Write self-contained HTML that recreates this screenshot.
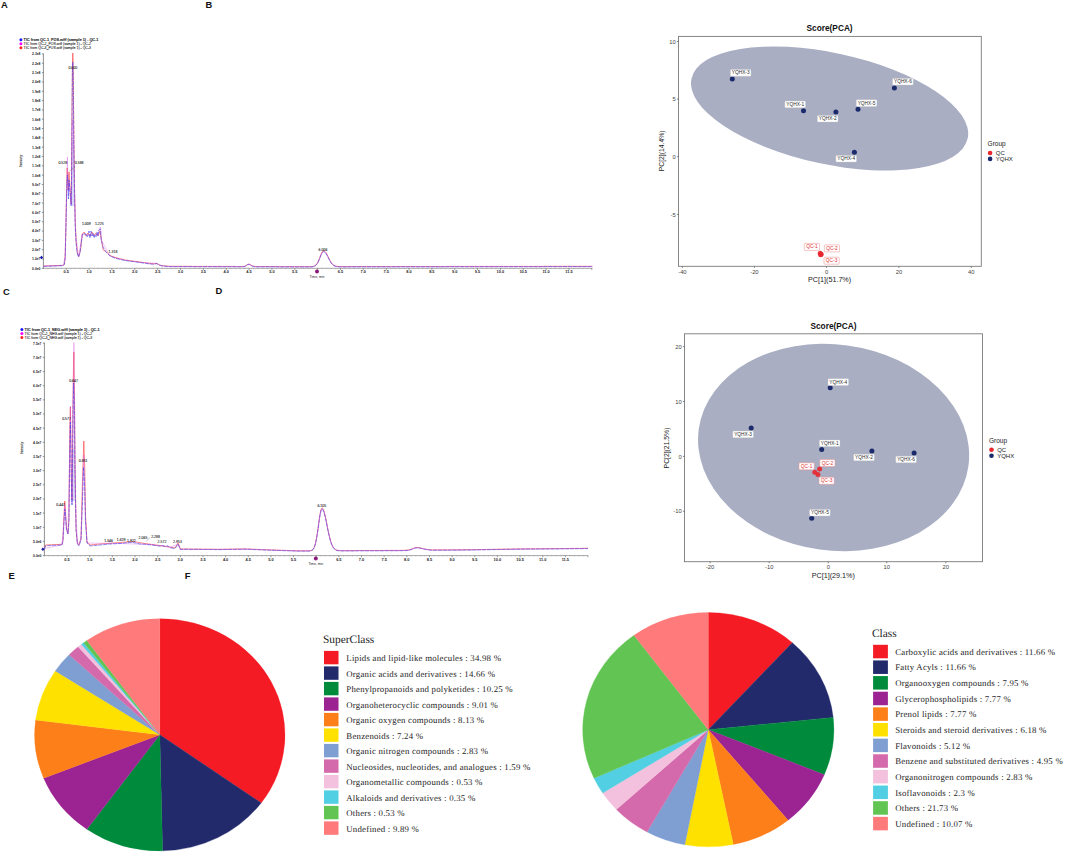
<!DOCTYPE html>
<html><head><meta charset="utf-8"><title>Figure</title>
<style>
html,body{margin:0;padding:0;background:#fff;}
body{width:1065px;height:856px;overflow:hidden;font-family:"Liberation Sans", sans-serif;}
svg{position:absolute;left:0;top:0;display:block;}
</style></head><body>
<svg width="1065" height="856" viewBox="0 0 1065 856">
<rect width="1065" height="856" fill="#fff"/>
<text x="0.9" y="8.0" font-family='"Liberation Sans", sans-serif' font-weight="bold" font-size="9.4" fill="#111">A</text>
<text x="205.6" y="8.1" font-family='"Liberation Sans", sans-serif' font-weight="bold" font-size="9.4" fill="#111">B</text>
<text x="3.0" y="294.5" font-family='"Liberation Sans", sans-serif' font-weight="bold" font-size="9.4" fill="#111">C</text>
<text x="215.6" y="294.4" font-family='"Liberation Sans", sans-serif' font-weight="bold" font-size="9.4" fill="#111">D</text>
<text x="8.6" y="578.9" font-family='"Liberation Sans", sans-serif' font-weight="bold" font-size="9.4" fill="#111">E</text>
<text x="184.8" y="578.9" font-family='"Liberation Sans", sans-serif' font-weight="bold" font-size="9.4" fill="#111">F</text>
<polygon points="71.5,206 71.9,140 73.8,140 74.6,206" fill="#cfd0f3" fill-opacity="0.8"/>
<line x1="43.4" y1="53.4" x2="43.4" y2="268.6" stroke="#6a6a6a" stroke-width="0.75"/>
<line x1="43.4" y1="268.3" x2="592.4" y2="268.3" stroke="#8a8a8a" stroke-width="0.75"/>
<line x1="41.8" y1="268.30" x2="43.4" y2="268.30" stroke="#555" stroke-width="0.6"/>
<text x="40.5" y="269.75" text-anchor="end" font-family='"Liberation Sans", sans-serif' font-size="4.0" font-weight="bold" textLength="8.4" lengthAdjust="spacingAndGlyphs" fill="#222">0.0e0</text>
<line x1="41.8" y1="258.98" x2="43.4" y2="258.98" stroke="#555" stroke-width="0.6"/>
<text x="40.5" y="260.43" text-anchor="end" font-family='"Liberation Sans", sans-serif' font-size="4.0" font-weight="bold" textLength="8.4" lengthAdjust="spacingAndGlyphs" fill="#222">1.0e7</text>
<line x1="41.8" y1="249.67" x2="43.4" y2="249.67" stroke="#555" stroke-width="0.6"/>
<text x="40.5" y="251.12" text-anchor="end" font-family='"Liberation Sans", sans-serif' font-size="4.0" font-weight="bold" textLength="8.4" lengthAdjust="spacingAndGlyphs" fill="#222">2.0e7</text>
<line x1="41.8" y1="240.35" x2="43.4" y2="240.35" stroke="#555" stroke-width="0.6"/>
<text x="40.5" y="241.80" text-anchor="end" font-family='"Liberation Sans", sans-serif' font-size="4.0" font-weight="bold" textLength="8.4" lengthAdjust="spacingAndGlyphs" fill="#222">3.0e7</text>
<line x1="41.8" y1="231.03" x2="43.4" y2="231.03" stroke="#555" stroke-width="0.6"/>
<text x="40.5" y="232.48" text-anchor="end" font-family='"Liberation Sans", sans-serif' font-size="4.0" font-weight="bold" textLength="8.4" lengthAdjust="spacingAndGlyphs" fill="#222">4.0e7</text>
<line x1="41.8" y1="221.71" x2="43.4" y2="221.71" stroke="#555" stroke-width="0.6"/>
<text x="40.5" y="223.16" text-anchor="end" font-family='"Liberation Sans", sans-serif' font-size="4.0" font-weight="bold" textLength="8.4" lengthAdjust="spacingAndGlyphs" fill="#222">5.0e7</text>
<line x1="41.8" y1="212.40" x2="43.4" y2="212.40" stroke="#555" stroke-width="0.6"/>
<text x="40.5" y="213.85" text-anchor="end" font-family='"Liberation Sans", sans-serif' font-size="4.0" font-weight="bold" textLength="8.4" lengthAdjust="spacingAndGlyphs" fill="#222">6.0e7</text>
<line x1="41.8" y1="203.08" x2="43.4" y2="203.08" stroke="#555" stroke-width="0.6"/>
<text x="40.5" y="204.53" text-anchor="end" font-family='"Liberation Sans", sans-serif' font-size="4.0" font-weight="bold" textLength="8.4" lengthAdjust="spacingAndGlyphs" fill="#222">7.0e7</text>
<line x1="41.8" y1="193.76" x2="43.4" y2="193.76" stroke="#555" stroke-width="0.6"/>
<text x="40.5" y="195.21" text-anchor="end" font-family='"Liberation Sans", sans-serif' font-size="4.0" font-weight="bold" textLength="8.4" lengthAdjust="spacingAndGlyphs" fill="#222">8.0e7</text>
<line x1="41.8" y1="184.44" x2="43.4" y2="184.44" stroke="#555" stroke-width="0.6"/>
<text x="40.5" y="185.89" text-anchor="end" font-family='"Liberation Sans", sans-serif' font-size="4.0" font-weight="bold" textLength="8.4" lengthAdjust="spacingAndGlyphs" fill="#222">9.0e7</text>
<line x1="41.8" y1="175.13" x2="43.4" y2="175.13" stroke="#555" stroke-width="0.6"/>
<text x="40.5" y="176.58" text-anchor="end" font-family='"Liberation Sans", sans-serif' font-size="4.0" font-weight="bold" textLength="8.4" lengthAdjust="spacingAndGlyphs" fill="#222">1.0e8</text>
<line x1="41.8" y1="165.81" x2="43.4" y2="165.81" stroke="#555" stroke-width="0.6"/>
<text x="40.5" y="167.26" text-anchor="end" font-family='"Liberation Sans", sans-serif' font-size="4.0" font-weight="bold" textLength="8.4" lengthAdjust="spacingAndGlyphs" fill="#222">1.1e8</text>
<line x1="41.8" y1="156.49" x2="43.4" y2="156.49" stroke="#555" stroke-width="0.6"/>
<text x="40.5" y="157.94" text-anchor="end" font-family='"Liberation Sans", sans-serif' font-size="4.0" font-weight="bold" textLength="8.4" lengthAdjust="spacingAndGlyphs" fill="#222">1.2e8</text>
<line x1="41.8" y1="147.17" x2="43.4" y2="147.17" stroke="#555" stroke-width="0.6"/>
<text x="40.5" y="148.62" text-anchor="end" font-family='"Liberation Sans", sans-serif' font-size="4.0" font-weight="bold" textLength="8.4" lengthAdjust="spacingAndGlyphs" fill="#222">1.3e8</text>
<line x1="41.8" y1="137.86" x2="43.4" y2="137.86" stroke="#555" stroke-width="0.6"/>
<text x="40.5" y="139.31" text-anchor="end" font-family='"Liberation Sans", sans-serif' font-size="4.0" font-weight="bold" textLength="8.4" lengthAdjust="spacingAndGlyphs" fill="#222">1.4e8</text>
<line x1="41.8" y1="128.54" x2="43.4" y2="128.54" stroke="#555" stroke-width="0.6"/>
<text x="40.5" y="129.99" text-anchor="end" font-family='"Liberation Sans", sans-serif' font-size="4.0" font-weight="bold" textLength="8.4" lengthAdjust="spacingAndGlyphs" fill="#222">1.5e8</text>
<line x1="41.8" y1="119.22" x2="43.4" y2="119.22" stroke="#555" stroke-width="0.6"/>
<text x="40.5" y="120.67" text-anchor="end" font-family='"Liberation Sans", sans-serif' font-size="4.0" font-weight="bold" textLength="8.4" lengthAdjust="spacingAndGlyphs" fill="#222">1.6e8</text>
<line x1="41.8" y1="109.90" x2="43.4" y2="109.90" stroke="#555" stroke-width="0.6"/>
<text x="40.5" y="111.35" text-anchor="end" font-family='"Liberation Sans", sans-serif' font-size="4.0" font-weight="bold" textLength="8.4" lengthAdjust="spacingAndGlyphs" fill="#222">1.7e8</text>
<line x1="41.8" y1="100.59" x2="43.4" y2="100.59" stroke="#555" stroke-width="0.6"/>
<text x="40.5" y="102.04" text-anchor="end" font-family='"Liberation Sans", sans-serif' font-size="4.0" font-weight="bold" textLength="8.4" lengthAdjust="spacingAndGlyphs" fill="#222">1.8e8</text>
<line x1="41.8" y1="91.27" x2="43.4" y2="91.27" stroke="#555" stroke-width="0.6"/>
<text x="40.5" y="92.72" text-anchor="end" font-family='"Liberation Sans", sans-serif' font-size="4.0" font-weight="bold" textLength="8.4" lengthAdjust="spacingAndGlyphs" fill="#222">1.9e8</text>
<line x1="41.8" y1="81.95" x2="43.4" y2="81.95" stroke="#555" stroke-width="0.6"/>
<text x="40.5" y="83.40" text-anchor="end" font-family='"Liberation Sans", sans-serif' font-size="4.0" font-weight="bold" textLength="8.4" lengthAdjust="spacingAndGlyphs" fill="#222">2.0e8</text>
<line x1="41.8" y1="72.63" x2="43.4" y2="72.63" stroke="#555" stroke-width="0.6"/>
<text x="40.5" y="74.08" text-anchor="end" font-family='"Liberation Sans", sans-serif' font-size="4.0" font-weight="bold" textLength="8.4" lengthAdjust="spacingAndGlyphs" fill="#222">2.1e8</text>
<line x1="41.8" y1="63.32" x2="43.4" y2="63.32" stroke="#555" stroke-width="0.6"/>
<text x="40.5" y="64.77" text-anchor="end" font-family='"Liberation Sans", sans-serif' font-size="4.0" font-weight="bold" textLength="8.4" lengthAdjust="spacingAndGlyphs" fill="#222">2.2e8</text>
<line x1="41.8" y1="54.00" x2="43.4" y2="54.00" stroke="#555" stroke-width="0.6"/>
<text x="40.5" y="55.45" text-anchor="end" font-family='"Liberation Sans", sans-serif' font-size="4.0" font-weight="bold" textLength="8.4" lengthAdjust="spacingAndGlyphs" fill="#222">2.3e8</text>
<line x1="43.40" y1="268.3" x2="43.40" y2="269.2" stroke="#888" stroke-width="0.4"/>
<line x1="47.97" y1="268.3" x2="47.97" y2="269.2" stroke="#888" stroke-width="0.4"/>
<line x1="52.54" y1="268.3" x2="52.54" y2="269.2" stroke="#888" stroke-width="0.4"/>
<line x1="57.11" y1="268.3" x2="57.11" y2="269.2" stroke="#888" stroke-width="0.4"/>
<line x1="61.68" y1="268.3" x2="61.68" y2="269.2" stroke="#888" stroke-width="0.4"/>
<line x1="66.25" y1="268.3" x2="66.25" y2="269.90000000000003" stroke="#555" stroke-width="0.6"/>
<text x="66.25" y="273.40" text-anchor="middle" font-family='"Liberation Sans", sans-serif' font-size="3.9" font-weight="bold" fill="#222">0.5</text>
<line x1="70.82" y1="268.3" x2="70.82" y2="269.2" stroke="#888" stroke-width="0.4"/>
<line x1="75.39" y1="268.3" x2="75.39" y2="269.2" stroke="#888" stroke-width="0.4"/>
<line x1="79.96" y1="268.3" x2="79.96" y2="269.2" stroke="#888" stroke-width="0.4"/>
<line x1="84.53" y1="268.3" x2="84.53" y2="269.2" stroke="#888" stroke-width="0.4"/>
<line x1="89.10" y1="268.3" x2="89.10" y2="269.90000000000003" stroke="#555" stroke-width="0.6"/>
<text x="89.10" y="273.40" text-anchor="middle" font-family='"Liberation Sans", sans-serif' font-size="3.9" font-weight="bold" fill="#222">1.0</text>
<line x1="93.67" y1="268.3" x2="93.67" y2="269.2" stroke="#888" stroke-width="0.4"/>
<line x1="98.24" y1="268.3" x2="98.24" y2="269.2" stroke="#888" stroke-width="0.4"/>
<line x1="102.81" y1="268.3" x2="102.81" y2="269.2" stroke="#888" stroke-width="0.4"/>
<line x1="107.38" y1="268.3" x2="107.38" y2="269.2" stroke="#888" stroke-width="0.4"/>
<line x1="111.95" y1="268.3" x2="111.95" y2="269.90000000000003" stroke="#555" stroke-width="0.6"/>
<text x="111.95" y="273.40" text-anchor="middle" font-family='"Liberation Sans", sans-serif' font-size="3.9" font-weight="bold" fill="#222">1.5</text>
<line x1="116.52" y1="268.3" x2="116.52" y2="269.2" stroke="#888" stroke-width="0.4"/>
<line x1="121.09" y1="268.3" x2="121.09" y2="269.2" stroke="#888" stroke-width="0.4"/>
<line x1="125.66" y1="268.3" x2="125.66" y2="269.2" stroke="#888" stroke-width="0.4"/>
<line x1="130.23" y1="268.3" x2="130.23" y2="269.2" stroke="#888" stroke-width="0.4"/>
<line x1="134.80" y1="268.3" x2="134.80" y2="269.90000000000003" stroke="#555" stroke-width="0.6"/>
<text x="134.80" y="273.40" text-anchor="middle" font-family='"Liberation Sans", sans-serif' font-size="3.9" font-weight="bold" fill="#222">2.0</text>
<line x1="139.37" y1="268.3" x2="139.37" y2="269.2" stroke="#888" stroke-width="0.4"/>
<line x1="143.94" y1="268.3" x2="143.94" y2="269.2" stroke="#888" stroke-width="0.4"/>
<line x1="148.51" y1="268.3" x2="148.51" y2="269.2" stroke="#888" stroke-width="0.4"/>
<line x1="153.08" y1="268.3" x2="153.08" y2="269.2" stroke="#888" stroke-width="0.4"/>
<line x1="157.65" y1="268.3" x2="157.65" y2="269.90000000000003" stroke="#555" stroke-width="0.6"/>
<text x="157.65" y="273.40" text-anchor="middle" font-family='"Liberation Sans", sans-serif' font-size="3.9" font-weight="bold" fill="#222">2.5</text>
<line x1="162.22" y1="268.3" x2="162.22" y2="269.2" stroke="#888" stroke-width="0.4"/>
<line x1="166.79" y1="268.3" x2="166.79" y2="269.2" stroke="#888" stroke-width="0.4"/>
<line x1="171.36" y1="268.3" x2="171.36" y2="269.2" stroke="#888" stroke-width="0.4"/>
<line x1="175.93" y1="268.3" x2="175.93" y2="269.2" stroke="#888" stroke-width="0.4"/>
<line x1="180.50" y1="268.3" x2="180.50" y2="269.90000000000003" stroke="#555" stroke-width="0.6"/>
<text x="180.50" y="273.40" text-anchor="middle" font-family='"Liberation Sans", sans-serif' font-size="3.9" font-weight="bold" fill="#222">3.0</text>
<line x1="185.07" y1="268.3" x2="185.07" y2="269.2" stroke="#888" stroke-width="0.4"/>
<line x1="189.64" y1="268.3" x2="189.64" y2="269.2" stroke="#888" stroke-width="0.4"/>
<line x1="194.21" y1="268.3" x2="194.21" y2="269.2" stroke="#888" stroke-width="0.4"/>
<line x1="198.78" y1="268.3" x2="198.78" y2="269.2" stroke="#888" stroke-width="0.4"/>
<line x1="203.35" y1="268.3" x2="203.35" y2="269.90000000000003" stroke="#555" stroke-width="0.6"/>
<text x="203.35" y="273.40" text-anchor="middle" font-family='"Liberation Sans", sans-serif' font-size="3.9" font-weight="bold" fill="#222">3.5</text>
<line x1="207.92" y1="268.3" x2="207.92" y2="269.2" stroke="#888" stroke-width="0.4"/>
<line x1="212.49" y1="268.3" x2="212.49" y2="269.2" stroke="#888" stroke-width="0.4"/>
<line x1="217.06" y1="268.3" x2="217.06" y2="269.2" stroke="#888" stroke-width="0.4"/>
<line x1="221.63" y1="268.3" x2="221.63" y2="269.2" stroke="#888" stroke-width="0.4"/>
<line x1="226.20" y1="268.3" x2="226.20" y2="269.90000000000003" stroke="#555" stroke-width="0.6"/>
<text x="226.20" y="273.40" text-anchor="middle" font-family='"Liberation Sans", sans-serif' font-size="3.9" font-weight="bold" fill="#222">4.0</text>
<line x1="230.77" y1="268.3" x2="230.77" y2="269.2" stroke="#888" stroke-width="0.4"/>
<line x1="235.34" y1="268.3" x2="235.34" y2="269.2" stroke="#888" stroke-width="0.4"/>
<line x1="239.91" y1="268.3" x2="239.91" y2="269.2" stroke="#888" stroke-width="0.4"/>
<line x1="244.48" y1="268.3" x2="244.48" y2="269.2" stroke="#888" stroke-width="0.4"/>
<line x1="249.05" y1="268.3" x2="249.05" y2="269.90000000000003" stroke="#555" stroke-width="0.6"/>
<text x="249.05" y="273.40" text-anchor="middle" font-family='"Liberation Sans", sans-serif' font-size="3.9" font-weight="bold" fill="#222">4.5</text>
<line x1="253.62" y1="268.3" x2="253.62" y2="269.2" stroke="#888" stroke-width="0.4"/>
<line x1="258.19" y1="268.3" x2="258.19" y2="269.2" stroke="#888" stroke-width="0.4"/>
<line x1="262.76" y1="268.3" x2="262.76" y2="269.2" stroke="#888" stroke-width="0.4"/>
<line x1="267.33" y1="268.3" x2="267.33" y2="269.2" stroke="#888" stroke-width="0.4"/>
<line x1="271.90" y1="268.3" x2="271.90" y2="269.90000000000003" stroke="#555" stroke-width="0.6"/>
<text x="271.90" y="273.40" text-anchor="middle" font-family='"Liberation Sans", sans-serif' font-size="3.9" font-weight="bold" fill="#222">5.0</text>
<line x1="276.47" y1="268.3" x2="276.47" y2="269.2" stroke="#888" stroke-width="0.4"/>
<line x1="281.04" y1="268.3" x2="281.04" y2="269.2" stroke="#888" stroke-width="0.4"/>
<line x1="285.61" y1="268.3" x2="285.61" y2="269.2" stroke="#888" stroke-width="0.4"/>
<line x1="290.18" y1="268.3" x2="290.18" y2="269.2" stroke="#888" stroke-width="0.4"/>
<line x1="294.75" y1="268.3" x2="294.75" y2="269.90000000000003" stroke="#555" stroke-width="0.6"/>
<text x="294.75" y="273.40" text-anchor="middle" font-family='"Liberation Sans", sans-serif' font-size="3.9" font-weight="bold" fill="#222">5.5</text>
<line x1="299.32" y1="268.3" x2="299.32" y2="269.2" stroke="#888" stroke-width="0.4"/>
<line x1="303.89" y1="268.3" x2="303.89" y2="269.2" stroke="#888" stroke-width="0.4"/>
<line x1="308.46" y1="268.3" x2="308.46" y2="269.2" stroke="#888" stroke-width="0.4"/>
<line x1="313.03" y1="268.3" x2="313.03" y2="269.2" stroke="#888" stroke-width="0.4"/>
<line x1="317.60" y1="268.3" x2="317.60" y2="269.90000000000003" stroke="#555" stroke-width="0.6"/>
<text x="317.60" y="273.40" text-anchor="middle" font-family='"Liberation Sans", sans-serif' font-size="3.9" font-weight="bold" fill="#222"></text>
<line x1="322.17" y1="268.3" x2="322.17" y2="269.2" stroke="#888" stroke-width="0.4"/>
<line x1="326.74" y1="268.3" x2="326.74" y2="269.2" stroke="#888" stroke-width="0.4"/>
<line x1="331.31" y1="268.3" x2="331.31" y2="269.2" stroke="#888" stroke-width="0.4"/>
<line x1="335.88" y1="268.3" x2="335.88" y2="269.2" stroke="#888" stroke-width="0.4"/>
<line x1="340.45" y1="268.3" x2="340.45" y2="269.90000000000003" stroke="#555" stroke-width="0.6"/>
<text x="340.45" y="273.40" text-anchor="middle" font-family='"Liberation Sans", sans-serif' font-size="3.9" font-weight="bold" fill="#222">6.5</text>
<line x1="345.02" y1="268.3" x2="345.02" y2="269.2" stroke="#888" stroke-width="0.4"/>
<line x1="349.59" y1="268.3" x2="349.59" y2="269.2" stroke="#888" stroke-width="0.4"/>
<line x1="354.16" y1="268.3" x2="354.16" y2="269.2" stroke="#888" stroke-width="0.4"/>
<line x1="358.73" y1="268.3" x2="358.73" y2="269.2" stroke="#888" stroke-width="0.4"/>
<line x1="363.30" y1="268.3" x2="363.30" y2="269.90000000000003" stroke="#555" stroke-width="0.6"/>
<text x="363.30" y="273.40" text-anchor="middle" font-family='"Liberation Sans", sans-serif' font-size="3.9" font-weight="bold" fill="#222">7.0</text>
<line x1="367.87" y1="268.3" x2="367.87" y2="269.2" stroke="#888" stroke-width="0.4"/>
<line x1="372.44" y1="268.3" x2="372.44" y2="269.2" stroke="#888" stroke-width="0.4"/>
<line x1="377.01" y1="268.3" x2="377.01" y2="269.2" stroke="#888" stroke-width="0.4"/>
<line x1="381.58" y1="268.3" x2="381.58" y2="269.2" stroke="#888" stroke-width="0.4"/>
<line x1="386.15" y1="268.3" x2="386.15" y2="269.90000000000003" stroke="#555" stroke-width="0.6"/>
<text x="386.15" y="273.40" text-anchor="middle" font-family='"Liberation Sans", sans-serif' font-size="3.9" font-weight="bold" fill="#222">7.5</text>
<line x1="390.72" y1="268.3" x2="390.72" y2="269.2" stroke="#888" stroke-width="0.4"/>
<line x1="395.29" y1="268.3" x2="395.29" y2="269.2" stroke="#888" stroke-width="0.4"/>
<line x1="399.86" y1="268.3" x2="399.86" y2="269.2" stroke="#888" stroke-width="0.4"/>
<line x1="404.43" y1="268.3" x2="404.43" y2="269.2" stroke="#888" stroke-width="0.4"/>
<line x1="409.00" y1="268.3" x2="409.00" y2="269.90000000000003" stroke="#555" stroke-width="0.6"/>
<text x="409.00" y="273.40" text-anchor="middle" font-family='"Liberation Sans", sans-serif' font-size="3.9" font-weight="bold" fill="#222">8.0</text>
<line x1="413.57" y1="268.3" x2="413.57" y2="269.2" stroke="#888" stroke-width="0.4"/>
<line x1="418.14" y1="268.3" x2="418.14" y2="269.2" stroke="#888" stroke-width="0.4"/>
<line x1="422.71" y1="268.3" x2="422.71" y2="269.2" stroke="#888" stroke-width="0.4"/>
<line x1="427.28" y1="268.3" x2="427.28" y2="269.2" stroke="#888" stroke-width="0.4"/>
<line x1="431.85" y1="268.3" x2="431.85" y2="269.90000000000003" stroke="#555" stroke-width="0.6"/>
<text x="431.85" y="273.40" text-anchor="middle" font-family='"Liberation Sans", sans-serif' font-size="3.9" font-weight="bold" fill="#222">8.5</text>
<line x1="436.42" y1="268.3" x2="436.42" y2="269.2" stroke="#888" stroke-width="0.4"/>
<line x1="440.99" y1="268.3" x2="440.99" y2="269.2" stroke="#888" stroke-width="0.4"/>
<line x1="445.56" y1="268.3" x2="445.56" y2="269.2" stroke="#888" stroke-width="0.4"/>
<line x1="450.13" y1="268.3" x2="450.13" y2="269.2" stroke="#888" stroke-width="0.4"/>
<line x1="454.70" y1="268.3" x2="454.70" y2="269.90000000000003" stroke="#555" stroke-width="0.6"/>
<text x="454.70" y="273.40" text-anchor="middle" font-family='"Liberation Sans", sans-serif' font-size="3.9" font-weight="bold" fill="#222">9.0</text>
<line x1="459.27" y1="268.3" x2="459.27" y2="269.2" stroke="#888" stroke-width="0.4"/>
<line x1="463.84" y1="268.3" x2="463.84" y2="269.2" stroke="#888" stroke-width="0.4"/>
<line x1="468.41" y1="268.3" x2="468.41" y2="269.2" stroke="#888" stroke-width="0.4"/>
<line x1="472.98" y1="268.3" x2="472.98" y2="269.2" stroke="#888" stroke-width="0.4"/>
<line x1="477.55" y1="268.3" x2="477.55" y2="269.90000000000003" stroke="#555" stroke-width="0.6"/>
<text x="477.55" y="273.40" text-anchor="middle" font-family='"Liberation Sans", sans-serif' font-size="3.9" font-weight="bold" fill="#222">9.5</text>
<line x1="482.12" y1="268.3" x2="482.12" y2="269.2" stroke="#888" stroke-width="0.4"/>
<line x1="486.69" y1="268.3" x2="486.69" y2="269.2" stroke="#888" stroke-width="0.4"/>
<line x1="491.26" y1="268.3" x2="491.26" y2="269.2" stroke="#888" stroke-width="0.4"/>
<line x1="495.83" y1="268.3" x2="495.83" y2="269.2" stroke="#888" stroke-width="0.4"/>
<line x1="500.40" y1="268.3" x2="500.40" y2="269.90000000000003" stroke="#555" stroke-width="0.6"/>
<text x="500.40" y="273.40" text-anchor="middle" font-family='"Liberation Sans", sans-serif' font-size="3.9" font-weight="bold" fill="#222">10.0</text>
<line x1="504.97" y1="268.3" x2="504.97" y2="269.2" stroke="#888" stroke-width="0.4"/>
<line x1="509.54" y1="268.3" x2="509.54" y2="269.2" stroke="#888" stroke-width="0.4"/>
<line x1="514.11" y1="268.3" x2="514.11" y2="269.2" stroke="#888" stroke-width="0.4"/>
<line x1="518.68" y1="268.3" x2="518.68" y2="269.2" stroke="#888" stroke-width="0.4"/>
<line x1="523.25" y1="268.3" x2="523.25" y2="269.90000000000003" stroke="#555" stroke-width="0.6"/>
<text x="523.25" y="273.40" text-anchor="middle" font-family='"Liberation Sans", sans-serif' font-size="3.9" font-weight="bold" fill="#222">10.5</text>
<line x1="527.82" y1="268.3" x2="527.82" y2="269.2" stroke="#888" stroke-width="0.4"/>
<line x1="532.39" y1="268.3" x2="532.39" y2="269.2" stroke="#888" stroke-width="0.4"/>
<line x1="536.96" y1="268.3" x2="536.96" y2="269.2" stroke="#888" stroke-width="0.4"/>
<line x1="541.53" y1="268.3" x2="541.53" y2="269.2" stroke="#888" stroke-width="0.4"/>
<line x1="546.10" y1="268.3" x2="546.10" y2="269.90000000000003" stroke="#555" stroke-width="0.6"/>
<text x="546.10" y="273.40" text-anchor="middle" font-family='"Liberation Sans", sans-serif' font-size="3.9" font-weight="bold" fill="#222">11.0</text>
<line x1="550.67" y1="268.3" x2="550.67" y2="269.2" stroke="#888" stroke-width="0.4"/>
<line x1="555.24" y1="268.3" x2="555.24" y2="269.2" stroke="#888" stroke-width="0.4"/>
<line x1="559.81" y1="268.3" x2="559.81" y2="269.2" stroke="#888" stroke-width="0.4"/>
<line x1="564.38" y1="268.3" x2="564.38" y2="269.2" stroke="#888" stroke-width="0.4"/>
<line x1="568.95" y1="268.3" x2="568.95" y2="269.90000000000003" stroke="#555" stroke-width="0.6"/>
<text x="568.95" y="273.40" text-anchor="middle" font-family='"Liberation Sans", sans-serif' font-size="3.9" font-weight="bold" fill="#222">11.5</text>
<line x1="573.52" y1="268.3" x2="573.52" y2="269.2" stroke="#888" stroke-width="0.4"/>
<line x1="578.09" y1="268.3" x2="578.09" y2="269.2" stroke="#888" stroke-width="0.4"/>
<line x1="582.66" y1="268.3" x2="582.66" y2="269.2" stroke="#888" stroke-width="0.4"/>
<line x1="587.23" y1="268.3" x2="587.23" y2="269.2" stroke="#888" stroke-width="0.4"/>
<line x1="591.80" y1="268.3" x2="591.80" y2="269.90000000000003" stroke="#555" stroke-width="0.6"/>
<text x="591.80" y="273.40" text-anchor="middle" font-family='"Liberation Sans", sans-serif' font-size="3.9" font-weight="bold" fill="#222"></text>
<polyline points="43.6,266.0 63.0,265.3 64.4,264.2 65.2,256.0 66.0,222.0 66.6,190.0 67.2,168.0 67.6,176.0 68.2,190.0 69.0,172.0 69.8,185.0 70.5,198.0 71.2,204.0 71.5,180.0 71.9,120.0 72.5,60.0 72.8,53.0 73.1,60.0 73.7,120.0 74.5,185.0 75.3,222.0 76.2,242.0 77.5,254.0 78.8,256.5 80.5,250.0 82.3,234.0 84.0,232.0 86.0,236.0 88.0,233.0 90.0,236.0 92.0,232.0 94.0,236.0 96.0,233.0 98.0,236.0 100.0,231.0 101.2,238.0 102.5,246.0 103.2,250.0 106.0,251.5 110.0,255.5 115.0,257.5 125.0,260.0 140.0,262.0 150.0,263.5 154.0,263.8 157.0,263.3 157.7,263.9 158.4,264.3 159.1,264.7 159.8,265.0 160.5,265.2 161.2,265.4 161.9,265.7 162.6,265.7 163.3,265.8 164.0,265.8 164.7,265.9 165.4,266.0 166.1,266.0 166.8,266.1 167.5,266.1 168.2,266.2 168.9,266.2 169.6,266.3 170.3,266.3 171.0,266.3 171.7,266.3 172.4,266.3 173.1,266.3 173.8,266.3 174.5,266.3 175.2,266.3 175.9,266.3 176.6,266.3 177.3,266.3 178.0,266.3 178.7,266.3 179.4,266.3 180.1,266.3 180.8,266.3 181.5,266.3 182.2,266.3 182.9,266.3 183.6,266.3 184.3,266.3 185.0,266.3 185.7,266.3 186.4,266.3 187.1,266.3 187.8,266.3 188.5,266.3 189.2,266.3 189.9,266.3 190.6,266.3 191.3,266.3 192.0,266.4 192.7,266.4 193.4,266.4 194.1,266.4 194.8,266.4 195.5,266.4 196.2,266.4 196.9,266.4 197.6,266.4 198.3,266.4 199.0,266.4 199.7,266.4 200.4,266.4 201.1,266.4 201.8,266.4 202.5,266.4 203.2,266.4 203.9,266.4 204.6,266.4 205.3,266.4 206.0,266.4 206.7,266.4 207.4,266.4 208.1,266.4 208.8,266.4 209.5,266.4 210.2,266.4 210.9,266.4 211.6,266.4 212.3,266.4 213.0,266.4 213.7,266.4 214.4,266.4 215.1,266.4 215.8,266.4 216.5,266.4 217.2,266.4 217.9,266.4 218.6,266.4 219.3,266.4 220.0,266.4 220.7,266.4 221.4,266.4 222.1,266.4 222.8,266.4 223.5,266.4 224.2,266.4 224.9,266.4 225.6,266.4 226.3,266.4 227.0,266.4 227.7,266.4 228.4,266.4 229.1,266.4 229.8,266.4 230.5,266.4 231.2,266.4 231.9,266.4 232.6,266.4 233.3,266.4 234.0,266.4 234.7,266.4 235.4,266.5 236.1,266.5 236.8,266.5 237.5,266.5 238.2,266.5 238.9,266.5 239.6,266.5 240.3,266.5 241.0,266.5 241.7,266.5 242.4,266.5 243.1,266.4 243.8,266.4 244.5,266.3 245.2,266.0 245.9,265.6 246.6,265.1 247.3,264.6 248.0,264.2 248.7,264.1 249.4,264.3 250.1,264.6 250.8,265.0 251.5,265.4 252.2,265.8 252.9,266.0 253.6,266.2 254.3,266.4 255.0,266.4 255.7,266.5 256.4,266.5 257.1,266.5 257.8,266.5 258.5,266.5 259.2,266.5 259.9,266.5 260.6,266.5 261.3,266.5 262.0,266.5 262.7,266.5 263.4,266.5 264.1,266.5 264.8,266.5 265.5,266.5 266.2,266.5 266.9,266.5 267.6,266.5 268.3,266.5 269.0,266.5 269.7,266.5 270.4,266.5 271.1,266.5 271.8,266.5 272.5,266.5 273.2,266.5 273.9,266.5 274.6,266.5 275.3,266.5 276.0,266.5 276.7,266.5 277.4,266.5 278.1,266.5 278.8,266.6 279.5,266.6 280.2,266.6 280.9,266.6 281.6,266.6 282.3,266.6 283.0,266.6 283.7,266.6 284.4,266.6 285.1,266.6 285.8,266.6 286.5,266.6 287.2,266.6 287.9,266.6 288.6,266.6 289.3,266.6 290.0,266.6 290.7,266.6 291.4,266.6 292.1,266.6 292.8,266.6 293.5,266.6 294.2,266.6 294.9,266.6 295.6,266.6 296.3,266.6 297.0,266.6 297.7,266.6 298.4,266.6 299.1,266.6 299.8,266.6 300.5,266.6 301.2,266.6 301.9,266.6 302.6,266.6 303.3,266.6 304.0,266.6 304.7,266.6 305.4,266.6 306.1,266.6 306.8,266.6 307.5,266.6 308.2,266.6 308.9,266.6 309.6,266.6 310.3,266.6 311.0,266.6 311.7,266.5 312.4,266.5 313.1,266.4 313.8,266.2 314.5,265.9 315.2,265.5 315.9,265.0 316.6,264.2 317.3,263.2 318.0,261.9 318.7,260.3 319.4,258.6 320.1,256.7 320.8,254.9 321.5,253.2 322.2,251.9 322.9,251.1 323.6,250.8 324.3,250.9 325.0,251.5 325.7,252.3 326.4,253.4 327.1,254.7 327.8,256.2 328.5,257.6 329.2,259.0 329.9,260.4 330.6,261.6 331.3,262.7 332.0,263.6 332.7,264.3 333.4,264.9 334.1,265.4 334.8,265.7 335.5,266.0 336.2,266.2 336.9,266.3 337.6,266.4 338.3,266.5 339.0,266.5 339.7,266.5 340.4,266.5 341.1,266.5 341.8,266.6 342.5,266.6 343.2,266.6 343.9,266.6 344.6,266.6 345.3,266.6 346.0,266.6 346.7,266.6 347.4,266.6 348.1,266.6 348.8,266.5 349.5,266.5 350.2,266.5 350.9,266.5 351.6,266.5 352.3,266.5 353.0,266.5 353.7,266.5 354.4,266.5 355.1,266.5 355.8,266.5 356.5,266.5 357.2,266.5 357.9,266.5 358.6,266.5 359.3,266.5 360.0,266.5 360.7,266.5 361.4,266.5 362.1,266.5 362.8,266.5 363.5,266.5 364.2,266.5 364.9,266.5 365.6,266.5 366.3,266.5 367.0,266.5 367.7,266.5 368.4,266.5 369.1,266.5 369.8,266.5 370.5,266.5 371.2,266.5 371.9,266.5 372.6,266.5 373.3,266.5 374.0,266.5 374.7,266.5 375.4,266.5 376.1,266.5 376.8,266.5 377.5,266.5 378.2,266.5 378.9,266.5 379.6,266.5 380.3,266.5 381.0,266.5 381.7,266.5 382.4,266.5 383.1,266.5 383.8,266.5 384.5,266.5 385.2,266.5 385.9,266.5 386.6,266.5 387.3,266.5 388.0,266.5 388.7,266.5 389.4,266.5 390.1,266.5 390.8,266.5 391.5,266.5 392.2,266.5 392.9,266.5 393.6,266.5 394.3,266.5 395.0,266.5 395.7,266.5 396.4,266.5 397.1,266.5 397.8,266.5 398.5,266.5 399.2,266.5 399.9,266.5 400.6,266.5 401.3,266.5 402.0,266.5 402.7,266.5 403.4,266.5 404.1,266.5 404.8,266.5 405.5,266.5 406.2,266.5 406.9,266.5 407.6,266.5 408.3,266.5 409.0,266.5 409.7,266.5 410.4,266.5 411.1,266.5 411.8,266.5 412.5,266.5 413.2,266.5 413.9,266.5 414.6,266.5 415.3,266.5 416.0,266.5 416.7,266.5 417.4,266.5 418.1,266.5 418.8,266.5 419.5,266.5 420.2,266.5 420.9,266.5 421.6,266.5 422.3,266.5 423.0,266.5 423.7,266.5 424.4,266.5 425.1,266.5 425.8,266.5 426.5,266.5 427.2,266.5 427.9,266.5 428.6,266.5 429.3,266.5 430.0,266.5 430.7,266.5 431.4,266.5 432.1,266.5 432.8,266.5 433.5,266.5 434.2,266.5 434.9,266.5 435.6,266.5 436.3,266.5 437.0,266.5 437.7,266.5 438.4,266.5 439.1,266.5 439.8,266.5 440.5,266.5 441.2,266.5 441.9,266.5 442.6,266.5 443.3,266.5 444.0,266.5 444.7,266.5 445.4,266.5 446.1,266.4 446.8,266.4 447.5,266.4 448.2,266.4 448.9,266.4 449.6,266.4 450.3,266.4 451.0,266.4 451.7,266.4 452.4,266.4 453.1,266.4 453.8,266.4 454.5,266.4 455.2,266.4 455.9,266.4 456.6,266.4 457.3,266.4 458.0,266.4 458.7,266.4 459.4,266.4 460.1,266.4 460.8,266.4 461.5,266.4 462.2,266.4 462.9,266.4 463.6,266.4 464.3,266.4 465.0,266.4 465.7,266.4 466.4,266.4 467.1,266.4 467.8,266.4 468.5,266.4 469.2,266.4 469.9,266.4 470.6,266.4 471.3,266.4 472.0,266.4 472.7,266.4 473.4,266.4 474.1,266.4 474.8,266.4 475.5,266.4 476.2,266.4 476.9,266.4 477.6,266.4 478.3,266.4 479.0,266.4 479.7,266.4 480.4,266.4 481.1,266.4 481.8,266.4 482.5,266.4 483.2,266.4 483.9,266.4 484.6,266.4 485.3,266.4 486.0,266.4 486.7,266.4 487.4,266.4 488.1,266.4 488.8,266.4 489.5,266.4 490.2,266.4 490.9,266.4 491.6,266.4 492.3,266.4 493.0,266.4 493.7,266.4 494.4,266.4 495.1,266.4 495.8,266.4 496.5,266.4 497.2,266.4 497.9,266.4 498.6,266.4 499.3,266.4 500.0,266.4 500.7,266.4 501.4,266.4 502.1,266.4 502.8,266.4 503.5,266.4 504.2,266.4 504.9,266.4 505.6,266.4 506.3,266.4 507.0,266.4 507.7,266.4 508.4,266.4 509.1,266.4 509.8,266.4 510.5,266.4 511.2,266.4 511.9,266.4 512.6,266.4 513.3,266.4 514.0,266.4 514.7,266.4 515.4,266.4 516.1,266.4 516.8,266.4 517.5,266.4 518.2,266.4 518.9,266.4 519.6,266.4 520.3,266.4 521.0,266.4 521.7,266.4 522.4,266.4 523.1,266.4 523.8,266.4 524.5,266.4 525.2,266.4 525.9,266.4 526.6,266.4 527.3,266.4 528.0,266.4 528.7,266.4 529.4,266.4 530.1,266.4 530.8,266.4 531.5,266.4 532.2,266.4 532.9,266.4 533.6,266.4 534.3,266.4 535.0,266.4 535.7,266.4 536.4,266.4 537.1,266.4 537.8,266.4 538.5,266.4 539.2,266.4 539.9,266.4 540.6,266.4 541.3,266.4 542.0,266.4 542.7,266.4 543.4,266.3 544.1,266.3 544.8,266.3 545.5,266.3 546.2,266.3 546.9,266.3 547.6,266.3 548.3,266.3 549.0,266.3 549.7,266.3 550.4,266.3 551.1,266.3 551.8,266.3 552.5,266.3 553.2,266.3 553.9,266.3 554.6,266.3 555.3,266.3 556.0,266.3 556.7,266.3 557.4,266.3 558.1,266.3 558.8,266.3 559.5,266.3 560.2,266.3 560.9,266.3 561.6,266.3 562.3,266.3 563.0,266.3 563.7,266.3 564.4,266.3 565.1,266.3 565.8,266.3 566.5,266.3 567.2,266.3 567.9,266.3 568.6,266.3 569.3,266.3 570.0,266.3 570.7,266.3 571.4,266.3 572.1,266.3 572.8,266.3 573.5,266.3 574.2,266.3 574.9,266.3 575.6,266.3 576.3,266.3 577.0,266.3 577.7,266.3 578.4,266.3 579.1,266.3 579.8,266.3 580.5,266.3 581.2,266.3 581.9,266.3 582.6,266.3 583.3,266.3 584.0,266.3 584.7,266.3 585.4,266.3 586.1,266.3 586.8,266.3 587.5,266.3 588.2,266.3 588.9,266.3 589.6,266.3 590.3,266.3 591.0,266.3 591.7,266.3 592.4,266.3" fill="none" stroke="#ff4040" stroke-width="0.7" stroke-opacity="0.9" stroke-linejoin="round"/>
<polyline points="43.6,266.2 63.0,265.5 65.2,257.0 66.3,205.0 67.0,175.0 67.4,157.0 67.8,178.0 68.5,192.0 69.3,182.0 70.0,190.0 71.2,205.0 71.6,170.0 72.1,128.0 72.7,120.0 73.3,128.0 73.9,160.0 74.5,190.0 75.5,232.0 78.5,256.5 82.3,234.0 90.0,236.0 98.0,234.0 99.5,228.0 100.5,227.0 101.2,240.0 110.0,256.0 125.0,260.3 140.0,262.3 157.0,263.4 157.7,264.0 158.4,264.5 159.1,264.8 159.8,265.1 160.5,265.4 161.2,265.6 161.9,265.8 162.6,265.9 163.3,265.9 164.0,266.0 164.7,266.1 165.4,266.1 166.1,266.2 166.8,266.2 167.5,266.3 168.2,266.3 168.9,266.4 169.6,266.4 170.3,266.5 171.0,266.5 171.7,266.5 172.4,266.5 173.1,266.5 173.8,266.5 174.5,266.5 175.2,266.5 175.9,266.5 176.6,266.5 177.3,266.5 178.0,266.5 178.7,266.5 179.4,266.5 180.1,266.5 180.8,266.5 181.5,266.5 182.2,266.5 182.9,266.5 183.6,266.5 184.3,266.5 185.0,266.5 185.7,266.5 186.4,266.5 187.1,266.5 187.8,266.5 188.5,266.5 189.2,266.5 189.9,266.5 190.6,266.5 191.3,266.5 192.0,266.5 192.7,266.5 193.4,266.5 194.1,266.5 194.8,266.5 195.5,266.5 196.2,266.5 196.9,266.5 197.6,266.5 198.3,266.5 199.0,266.5 199.7,266.5 200.4,266.5 201.1,266.5 201.8,266.5 202.5,266.5 203.2,266.5 203.9,266.5 204.6,266.5 205.3,266.5 206.0,266.5 206.7,266.5 207.4,266.5 208.1,266.5 208.8,266.5 209.5,266.5 210.2,266.5 210.9,266.5 211.6,266.5 212.3,266.5 213.0,266.5 213.7,266.6 214.4,266.6 215.1,266.6 215.8,266.6 216.5,266.6 217.2,266.6 217.9,266.6 218.6,266.6 219.3,266.6 220.0,266.6 220.7,266.6 221.4,266.6 222.1,266.6 222.8,266.6 223.5,266.6 224.2,266.6 224.9,266.6 225.6,266.6 226.3,266.6 227.0,266.6 227.7,266.6 228.4,266.6 229.1,266.6 229.8,266.6 230.5,266.6 231.2,266.6 231.9,266.6 232.6,266.6 233.3,266.6 234.0,266.6 234.7,266.6 235.4,266.6 236.1,266.6 236.8,266.6 237.5,266.6 238.2,266.6 238.9,266.6 239.6,266.6 240.3,266.6 241.0,266.6 241.7,266.6 242.4,266.6 243.1,266.6 243.8,266.5 244.5,266.4 245.2,266.2 245.9,265.8 246.6,265.3 247.3,264.7 248.0,264.4 248.7,264.3 249.4,264.4 250.1,264.8 250.8,265.2 251.5,265.6 252.2,265.9 252.9,266.2 253.6,266.4 254.3,266.5 255.0,266.6 255.7,266.6 256.4,266.6 257.1,266.6 257.8,266.7 258.5,266.7 259.2,266.7 259.9,266.7 260.6,266.7 261.3,266.7 262.0,266.7 262.7,266.7 263.4,266.7 264.1,266.7 264.8,266.7 265.5,266.7 266.2,266.7 266.9,266.7 267.6,266.7 268.3,266.7 269.0,266.7 269.7,266.7 270.4,266.7 271.1,266.7 271.8,266.7 272.5,266.7 273.2,266.7 273.9,266.7 274.6,266.7 275.3,266.7 276.0,266.7 276.7,266.7 277.4,266.7 278.1,266.7 278.8,266.7 279.5,266.7 280.2,266.7 280.9,266.7 281.6,266.7 282.3,266.7 283.0,266.7 283.7,266.7 284.4,266.7 285.1,266.7 285.8,266.7 286.5,266.7 287.2,266.7 287.9,266.7 288.6,266.7 289.3,266.7 290.0,266.7 290.7,266.7 291.4,266.7 292.1,266.7 292.8,266.7 293.5,266.7 294.2,266.7 294.9,266.7 295.6,266.7 296.3,266.7 297.0,266.7 297.7,266.7 298.4,266.7 299.1,266.7 299.8,266.7 300.5,266.7 301.2,266.7 301.9,266.7 302.6,266.7 303.3,266.7 304.0,266.7 304.7,266.7 305.4,266.7 306.1,266.7 306.8,266.7 307.5,266.7 308.2,266.7 308.9,266.7 309.6,266.7 310.3,266.7 311.0,266.7 311.7,266.7 312.4,266.6 313.1,266.5 313.8,266.4 314.5,266.1 315.2,265.7 315.9,265.2 316.6,264.4 317.3,263.4 318.0,262.1 318.7,260.6 319.4,258.9 320.1,257.1 320.8,255.3 321.5,253.6 322.2,252.4 322.9,251.5 323.6,251.2 324.3,251.4 325.0,251.9 325.7,252.8 326.4,253.8 327.1,255.1 327.8,256.5 328.5,257.9 329.2,259.3 329.9,260.6 330.6,261.8 331.3,262.9 332.0,263.8 332.7,264.5 333.4,265.1 334.1,265.6 334.8,265.9 335.5,266.2 336.2,266.3 336.9,266.5 337.6,266.6 338.3,266.6 339.0,266.7 339.7,266.7 340.4,266.7 341.1,266.7 341.8,266.7 342.5,266.7 343.2,266.7 343.9,266.7 344.6,266.7 345.3,266.7 346.0,266.7 346.7,266.7 347.4,266.7 348.1,266.7 348.8,266.7 349.5,266.7 350.2,266.7 350.9,266.7 351.6,266.7 352.3,266.7 353.0,266.7 353.7,266.7 354.4,266.7 355.1,266.7 355.8,266.7 356.5,266.7 357.2,266.7 357.9,266.7 358.6,266.7 359.3,266.7 360.0,266.7 360.7,266.7 361.4,266.7 362.1,266.7 362.8,266.7 363.5,266.7 364.2,266.7 364.9,266.7 365.6,266.7 366.3,266.7 367.0,266.7 367.7,266.7 368.4,266.7 369.1,266.7 369.8,266.7 370.5,266.7 371.2,266.7 371.9,266.7 372.6,266.7 373.3,266.7 374.0,266.7 374.7,266.7 375.4,266.7 376.1,266.7 376.8,266.7 377.5,266.7 378.2,266.7 378.9,266.7 379.6,266.7 380.3,266.7 381.0,266.7 381.7,266.7 382.4,266.7 383.1,266.7 383.8,266.7 384.5,266.7 385.2,266.7 385.9,266.7 386.6,266.7 387.3,266.7 388.0,266.7 388.7,266.7 389.4,266.7 390.1,266.7 390.8,266.7 391.5,266.7 392.2,266.7 392.9,266.7 393.6,266.7 394.3,266.7 395.0,266.7 395.7,266.7 396.4,266.7 397.1,266.7 397.8,266.6 398.5,266.6 399.2,266.6 399.9,266.6 400.6,266.6 401.3,266.6 402.0,266.6 402.7,266.6 403.4,266.6 404.1,266.6 404.8,266.6 405.5,266.6 406.2,266.6 406.9,266.6 407.6,266.6 408.3,266.6 409.0,266.6 409.7,266.6 410.4,266.6 411.1,266.6 411.8,266.6 412.5,266.6 413.2,266.6 413.9,266.6 414.6,266.6 415.3,266.6 416.0,266.6 416.7,266.6 417.4,266.6 418.1,266.6 418.8,266.6 419.5,266.6 420.2,266.6 420.9,266.6 421.6,266.6 422.3,266.6 423.0,266.6 423.7,266.6 424.4,266.6 425.1,266.6 425.8,266.6 426.5,266.6 427.2,266.6 427.9,266.6 428.6,266.6 429.3,266.6 430.0,266.6 430.7,266.6 431.4,266.6 432.1,266.6 432.8,266.6 433.5,266.6 434.2,266.6 434.9,266.6 435.6,266.6 436.3,266.6 437.0,266.6 437.7,266.6 438.4,266.6 439.1,266.6 439.8,266.6 440.5,266.6 441.2,266.6 441.9,266.6 442.6,266.6 443.3,266.6 444.0,266.6 444.7,266.6 445.4,266.6 446.1,266.6 446.8,266.6 447.5,266.6 448.2,266.6 448.9,266.6 449.6,266.6 450.3,266.6 451.0,266.6 451.7,266.6 452.4,266.6 453.1,266.6 453.8,266.6 454.5,266.6 455.2,266.6 455.9,266.6 456.6,266.6 457.3,266.6 458.0,266.6 458.7,266.6 459.4,266.6 460.1,266.6 460.8,266.6 461.5,266.6 462.2,266.6 462.9,266.6 463.6,266.6 464.3,266.6 465.0,266.6 465.7,266.6 466.4,266.6 467.1,266.6 467.8,266.6 468.5,266.6 469.2,266.6 469.9,266.6 470.6,266.6 471.3,266.6 472.0,266.6 472.7,266.6 473.4,266.6 474.1,266.6 474.8,266.6 475.5,266.6 476.2,266.6 476.9,266.6 477.6,266.6 478.3,266.6 479.0,266.6 479.7,266.6 480.4,266.6 481.1,266.6 481.8,266.6 482.5,266.6 483.2,266.6 483.9,266.6 484.6,266.6 485.3,266.6 486.0,266.6 486.7,266.6 487.4,266.6 488.1,266.6 488.8,266.6 489.5,266.6 490.2,266.6 490.9,266.6 491.6,266.6 492.3,266.6 493.0,266.6 493.7,266.6 494.4,266.6 495.1,266.5 495.8,266.5 496.5,266.5 497.2,266.5 497.9,266.5 498.6,266.5 499.3,266.5 500.0,266.5 500.7,266.5 501.4,266.5 502.1,266.5 502.8,266.5 503.5,266.5 504.2,266.5 504.9,266.5 505.6,266.5 506.3,266.5 507.0,266.5 507.7,266.5 508.4,266.5 509.1,266.5 509.8,266.5 510.5,266.5 511.2,266.5 511.9,266.5 512.6,266.5 513.3,266.5 514.0,266.5 514.7,266.5 515.4,266.5 516.1,266.5 516.8,266.5 517.5,266.5 518.2,266.5 518.9,266.5 519.6,266.5 520.3,266.5 521.0,266.5 521.7,266.5 522.4,266.5 523.1,266.5 523.8,266.5 524.5,266.5 525.2,266.5 525.9,266.5 526.6,266.5 527.3,266.5 528.0,266.5 528.7,266.5 529.4,266.5 530.1,266.5 530.8,266.5 531.5,266.5 532.2,266.5 532.9,266.5 533.6,266.5 534.3,266.5 535.0,266.5 535.7,266.5 536.4,266.5 537.1,266.5 537.8,266.5 538.5,266.5 539.2,266.5 539.9,266.5 540.6,266.5 541.3,266.5 542.0,266.5 542.7,266.5 543.4,266.5 544.1,266.5 544.8,266.5 545.5,266.5 546.2,266.5 546.9,266.5 547.6,266.5 548.3,266.5 549.0,266.5 549.7,266.5 550.4,266.5 551.1,266.5 551.8,266.5 552.5,266.5 553.2,266.5 553.9,266.5 554.6,266.5 555.3,266.5 556.0,266.5 556.7,266.5 557.4,266.5 558.1,266.5 558.8,266.5 559.5,266.5 560.2,266.5 560.9,266.5 561.6,266.5 562.3,266.5 563.0,266.5 563.7,266.5 564.4,266.5 565.1,266.5 565.8,266.5 566.5,266.5 567.2,266.5 567.9,266.5 568.6,266.5 569.3,266.5 570.0,266.5 570.7,266.5 571.4,266.5 572.1,266.5 572.8,266.5 573.5,266.5 574.2,266.5 574.9,266.5 575.6,266.5 576.3,266.5 577.0,266.5 577.7,266.5 578.4,266.5 579.1,266.5 579.8,266.5 580.5,266.5 581.2,266.5 581.9,266.5 582.6,266.5 583.3,266.5 584.0,266.5 584.7,266.5 585.4,266.5 586.1,266.5 586.8,266.5 587.5,266.5 588.2,266.5 588.9,266.5 589.6,266.5 590.3,266.5 591.0,266.5 591.7,266.5 592.4,266.5" fill="none" stroke="#d850e0" stroke-width="0.6" stroke-opacity="0.6" stroke-linejoin="round"/>
<polyline points="43.6,266.3 55.0,266.0 63.0,265.6 64.4,264.5 65.2,258.0 66.0,225.0 66.5,200.0 67.0,182.0 67.4,175.0 68.0,186.0 68.4,199.0 69.0,180.0 69.6,186.0 70.4,196.0 71.2,206.0 71.5,192.0 71.9,140.0 72.4,72.0 72.8,62.0 73.2,72.0 73.8,140.0 74.5,195.0 75.2,226.0 76.0,242.0 77.0,252.0 78.5,257.0 80.0,253.0 81.0,245.0 82.3,235.0 83.5,233.5 86.0,234.0 87.0,237.0 88.0,235.0 89.0,231.0 90.0,238.0 91.0,231.0 92.0,236.0 93.0,233.0 94.0,238.0 95.0,235.0 96.0,237.0 97.0,232.0 98.0,236.0 99.0,230.0 100.5,229.0 101.2,240.0 103.0,247.0 106.0,252.0 110.0,256.0 115.0,258.2 125.0,260.5 140.0,262.5 150.0,264.0 154.0,264.2 157.0,263.6 157.7,264.2 158.4,264.6 159.1,265.0 159.8,265.3 160.5,265.5 161.2,265.7 161.9,266.0 162.6,266.0 163.3,266.1 164.0,266.1 164.7,266.2 165.4,266.3 166.1,266.3 166.8,266.4 167.5,266.4 168.2,266.5 168.9,266.5 169.6,266.6 170.3,266.6 171.0,266.6 171.7,266.6 172.4,266.6 173.1,266.6 173.8,266.6 174.5,266.6 175.2,266.6 175.9,266.6 176.6,266.6 177.3,266.6 178.0,266.6 178.7,266.6 179.4,266.6 180.1,266.6 180.8,266.6 181.5,266.6 182.2,266.6 182.9,266.6 183.6,266.6 184.3,266.6 185.0,266.6 185.7,266.6 186.4,266.6 187.1,266.6 187.8,266.6 188.5,266.6 189.2,266.6 189.9,266.6 190.6,266.6 191.3,266.6 192.0,266.7 192.7,266.7 193.4,266.7 194.1,266.7 194.8,266.7 195.5,266.7 196.2,266.7 196.9,266.7 197.6,266.7 198.3,266.7 199.0,266.7 199.7,266.7 200.4,266.7 201.1,266.7 201.8,266.7 202.5,266.7 203.2,266.7 203.9,266.7 204.6,266.7 205.3,266.7 206.0,266.7 206.7,266.7 207.4,266.7 208.1,266.7 208.8,266.7 209.5,266.7 210.2,266.7 210.9,266.7 211.6,266.7 212.3,266.7 213.0,266.7 213.7,266.7 214.4,266.7 215.1,266.7 215.8,266.7 216.5,266.7 217.2,266.7 217.9,266.7 218.6,266.7 219.3,266.7 220.0,266.7 220.7,266.7 221.4,266.7 222.1,266.7 222.8,266.7 223.5,266.7 224.2,266.7 224.9,266.7 225.6,266.7 226.3,266.7 227.0,266.7 227.7,266.7 228.4,266.7 229.1,266.7 229.8,266.7 230.5,266.7 231.2,266.7 231.9,266.7 232.6,266.7 233.3,266.7 234.0,266.7 234.7,266.7 235.4,266.8 236.1,266.8 236.8,266.8 237.5,266.8 238.2,266.8 238.9,266.8 239.6,266.8 240.3,266.8 241.0,266.8 241.7,266.8 242.4,266.8 243.1,266.7 243.8,266.7 244.5,266.6 245.2,266.3 245.9,266.0 246.6,265.5 247.3,264.9 248.0,264.6 248.7,264.5 249.4,264.6 250.1,264.9 250.8,265.3 251.5,265.7 252.2,266.1 252.9,266.4 253.6,266.6 254.3,266.7 255.0,266.7 255.7,266.8 256.4,266.8 257.1,266.8 257.8,266.8 258.5,266.8 259.2,266.8 259.9,266.8 260.6,266.8 261.3,266.8 262.0,266.8 262.7,266.8 263.4,266.8 264.1,266.8 264.8,266.8 265.5,266.8 266.2,266.8 266.9,266.8 267.6,266.8 268.3,266.8 269.0,266.8 269.7,266.8 270.4,266.8 271.1,266.8 271.8,266.8 272.5,266.8 273.2,266.8 273.9,266.8 274.6,266.8 275.3,266.8 276.0,266.8 276.7,266.8 277.4,266.8 278.1,266.8 278.8,266.9 279.5,266.9 280.2,266.9 280.9,266.9 281.6,266.9 282.3,266.9 283.0,266.9 283.7,266.9 284.4,266.9 285.1,266.9 285.8,266.9 286.5,266.9 287.2,266.9 287.9,266.9 288.6,266.9 289.3,266.9 290.0,266.9 290.7,266.9 291.4,266.9 292.1,266.9 292.8,266.9 293.5,266.9 294.2,266.9 294.9,266.9 295.6,266.9 296.3,266.9 297.0,266.9 297.7,266.9 298.4,266.9 299.1,266.9 299.8,266.9 300.5,266.9 301.2,266.9 301.9,266.9 302.6,266.9 303.3,266.9 304.0,266.9 304.7,266.9 305.4,266.9 306.1,266.9 306.8,266.9 307.5,266.9 308.2,266.9 308.9,266.9 309.6,266.9 310.3,266.9 311.0,266.9 311.7,266.8 312.4,266.8 313.1,266.7 313.8,266.5 314.5,266.3 315.2,265.9 315.9,265.3 316.6,264.6 317.3,263.6 318.0,262.3 318.7,260.9 319.4,259.2 320.1,257.4 320.8,255.6 321.5,254.1 322.2,252.8 322.9,252.0 323.6,251.7 324.3,251.9 325.0,252.4 325.7,253.2 326.4,254.2 327.1,255.5 327.8,256.9 328.5,258.3 329.2,259.6 329.9,260.9 330.6,262.1 331.3,263.1 332.0,264.0 332.7,264.7 333.4,265.3 334.1,265.7 334.8,266.1 335.5,266.3 336.2,266.5 336.9,266.6 337.6,266.7 338.3,266.8 339.0,266.8 339.7,266.8 340.4,266.8 341.1,266.8 341.8,266.9 342.5,266.9 343.2,266.9 343.9,266.9 344.6,266.9 345.3,266.9 346.0,266.9 346.7,266.9 347.4,266.9 348.1,266.9 348.8,266.8 349.5,266.8 350.2,266.8 350.9,266.8 351.6,266.8 352.3,266.8 353.0,266.8 353.7,266.8 354.4,266.8 355.1,266.8 355.8,266.8 356.5,266.8 357.2,266.8 357.9,266.8 358.6,266.8 359.3,266.8 360.0,266.8 360.7,266.8 361.4,266.8 362.1,266.8 362.8,266.8 363.5,266.8 364.2,266.8 364.9,266.8 365.6,266.8 366.3,266.8 367.0,266.8 367.7,266.8 368.4,266.8 369.1,266.8 369.8,266.8 370.5,266.8 371.2,266.8 371.9,266.8 372.6,266.8 373.3,266.8 374.0,266.8 374.7,266.8 375.4,266.8 376.1,266.8 376.8,266.8 377.5,266.8 378.2,266.8 378.9,266.8 379.6,266.8 380.3,266.8 381.0,266.8 381.7,266.8 382.4,266.8 383.1,266.8 383.8,266.8 384.5,266.8 385.2,266.8 385.9,266.8 386.6,266.8 387.3,266.8 388.0,266.8 388.7,266.8 389.4,266.8 390.1,266.8 390.8,266.8 391.5,266.8 392.2,266.8 392.9,266.8 393.6,266.8 394.3,266.8 395.0,266.8 395.7,266.8 396.4,266.8 397.1,266.8 397.8,266.8 398.5,266.8 399.2,266.8 399.9,266.8 400.6,266.8 401.3,266.8 402.0,266.8 402.7,266.8 403.4,266.8 404.1,266.8 404.8,266.8 405.5,266.8 406.2,266.8 406.9,266.8 407.6,266.8 408.3,266.8 409.0,266.8 409.7,266.8 410.4,266.8 411.1,266.8 411.8,266.8 412.5,266.8 413.2,266.8 413.9,266.8 414.6,266.8 415.3,266.8 416.0,266.8 416.7,266.8 417.4,266.8 418.1,266.8 418.8,266.8 419.5,266.8 420.2,266.8 420.9,266.8 421.6,266.8 422.3,266.8 423.0,266.8 423.7,266.8 424.4,266.8 425.1,266.8 425.8,266.8 426.5,266.8 427.2,266.8 427.9,266.8 428.6,266.8 429.3,266.8 430.0,266.8 430.7,266.8 431.4,266.8 432.1,266.8 432.8,266.8 433.5,266.8 434.2,266.8 434.9,266.8 435.6,266.8 436.3,266.8 437.0,266.8 437.7,266.8 438.4,266.8 439.1,266.8 439.8,266.8 440.5,266.8 441.2,266.8 441.9,266.8 442.6,266.8 443.3,266.8 444.0,266.8 444.7,266.8 445.4,266.8 446.1,266.7 446.8,266.7 447.5,266.7 448.2,266.7 448.9,266.7 449.6,266.7 450.3,266.7 451.0,266.7 451.7,266.7 452.4,266.7 453.1,266.7 453.8,266.7 454.5,266.7 455.2,266.7 455.9,266.7 456.6,266.7 457.3,266.7 458.0,266.7 458.7,266.7 459.4,266.7 460.1,266.7 460.8,266.7 461.5,266.7 462.2,266.7 462.9,266.7 463.6,266.7 464.3,266.7 465.0,266.7 465.7,266.7 466.4,266.7 467.1,266.7 467.8,266.7 468.5,266.7 469.2,266.7 469.9,266.7 470.6,266.7 471.3,266.7 472.0,266.7 472.7,266.7 473.4,266.7 474.1,266.7 474.8,266.7 475.5,266.7 476.2,266.7 476.9,266.7 477.6,266.7 478.3,266.7 479.0,266.7 479.7,266.7 480.4,266.7 481.1,266.7 481.8,266.7 482.5,266.7 483.2,266.7 483.9,266.7 484.6,266.7 485.3,266.7 486.0,266.7 486.7,266.7 487.4,266.7 488.1,266.7 488.8,266.7 489.5,266.7 490.2,266.7 490.9,266.7 491.6,266.7 492.3,266.7 493.0,266.7 493.7,266.7 494.4,266.7 495.1,266.7 495.8,266.7 496.5,266.7 497.2,266.7 497.9,266.7 498.6,266.7 499.3,266.7 500.0,266.7 500.7,266.7 501.4,266.7 502.1,266.7 502.8,266.7 503.5,266.7 504.2,266.7 504.9,266.7 505.6,266.7 506.3,266.7 507.0,266.7 507.7,266.7 508.4,266.7 509.1,266.7 509.8,266.7 510.5,266.7 511.2,266.7 511.9,266.7 512.6,266.7 513.3,266.7 514.0,266.7 514.7,266.7 515.4,266.7 516.1,266.7 516.8,266.7 517.5,266.7 518.2,266.7 518.9,266.7 519.6,266.7 520.3,266.7 521.0,266.7 521.7,266.7 522.4,266.7 523.1,266.7 523.8,266.7 524.5,266.7 525.2,266.7 525.9,266.7 526.6,266.7 527.3,266.7 528.0,266.7 528.7,266.7 529.4,266.7 530.1,266.7 530.8,266.7 531.5,266.7 532.2,266.7 532.9,266.7 533.6,266.7 534.3,266.7 535.0,266.7 535.7,266.7 536.4,266.7 537.1,266.7 537.8,266.7 538.5,266.7 539.2,266.7 539.9,266.7 540.6,266.7 541.3,266.7 542.0,266.7 542.7,266.7 543.4,266.6 544.1,266.6 544.8,266.6 545.5,266.6 546.2,266.6 546.9,266.6 547.6,266.6 548.3,266.6 549.0,266.6 549.7,266.6 550.4,266.6 551.1,266.6 551.8,266.6 552.5,266.6 553.2,266.6 553.9,266.6 554.6,266.6 555.3,266.6 556.0,266.6 556.7,266.6 557.4,266.6 558.1,266.6 558.8,266.6 559.5,266.6 560.2,266.6 560.9,266.6 561.6,266.6 562.3,266.6 563.0,266.6 563.7,266.6 564.4,266.6 565.1,266.6 565.8,266.6 566.5,266.6 567.2,266.6 567.9,266.6 568.6,266.6 569.3,266.6 570.0,266.6 570.7,266.6 571.4,266.6 572.1,266.6 572.8,266.6 573.5,266.6 574.2,266.6 574.9,266.6 575.6,266.6 576.3,266.6 577.0,266.6 577.7,266.6 578.4,266.6 579.1,266.6 579.8,266.6 580.5,266.6 581.2,266.6 581.9,266.6 582.6,266.6 583.3,266.6 584.0,266.6 584.7,266.6 585.4,266.6 586.1,266.6 586.8,266.6 587.5,266.6 588.2,266.6 588.9,266.6 589.6,266.6 590.3,266.6 591.0,266.6 591.7,266.6 592.4,266.6" fill="none" stroke="#3a3af5" stroke-width="0.65" stroke-opacity="0.9" stroke-linejoin="round" stroke-dasharray="4,0.9"/>
<text x="72.8" y="69.3" text-anchor="middle" font-family='"Liberation Sans", sans-serif' font-size="3.5" fill="#1a1a1a" stroke="#1a1a1a" stroke-width="0.08">0.600</text>
<text x="62.8" y="163.8" text-anchor="middle" font-family='"Liberation Sans", sans-serif' font-size="3.5" fill="#1a1a1a" stroke="#1a1a1a" stroke-width="0.08">0.528</text>
<text x="79.2" y="163.8" text-anchor="middle" font-family='"Liberation Sans", sans-serif' font-size="3.5" fill="#1a1a1a" stroke="#1a1a1a" stroke-width="0.08">0.588</text>
<text x="86.3" y="224.6" text-anchor="middle" font-family='"Liberation Sans", sans-serif' font-size="3.5" fill="#1a1a1a" stroke="#1a1a1a" stroke-width="0.08">1.009</text>
<text x="99.3" y="224.6" text-anchor="middle" font-family='"Liberation Sans", sans-serif' font-size="3.5" fill="#1a1a1a" stroke="#1a1a1a" stroke-width="0.08">1.225</text>
<text x="113.0" y="252.7" text-anchor="middle" font-family='"Liberation Sans", sans-serif' font-size="3.5" fill="#1a1a1a" stroke="#1a1a1a" stroke-width="0.08">1.318</text>
<text x="323.0" y="250.6" text-anchor="middle" font-family='"Liberation Sans", sans-serif' font-size="3.5" fill="#1a1a1a" stroke="#1a1a1a" stroke-width="0.08">6.006</text>
<circle cx="20.9" cy="39.8" r="1.5" fill="#1a1aff"/>
<text x="23.599999999999998" y="41.099999999999994" font-family='"Liberation Sans", sans-serif' font-size="3.75" font-weight="bold" fill="#1a1a1a" stroke="#1a1a1a" stroke-width="0.08">TIC from QC-1_POS.wiff (sample 1) - QC-1</text>
<circle cx="20.9" cy="43.8" r="1.5" fill="#ff00ff"/>
<text x="23.599999999999998" y="45.099999999999994" font-family='"Liberation Sans", sans-serif' font-size="3.5" font-weight="normal" fill="#1a1a1a" stroke="#1a1a1a" stroke-width="0.08">TIC from QC-2_POS.wiff (sample 1) - QC-2</text>
<circle cx="20.9" cy="47.8" r="1.5" fill="#ff2020"/>
<text x="23.599999999999998" y="49.099999999999994" font-family='"Liberation Sans", sans-serif' font-size="3.5" font-weight="normal" fill="#1a1a1a" stroke="#1a1a1a" stroke-width="0.08">TIC from QC-3_POS.wiff (sample 1) - QC-3</text>
<text transform="translate(22.2,161.0) rotate(-90)" text-anchor="middle" font-family='"Liberation Sans", sans-serif' font-size="3.3" fill="#333" stroke="#333" stroke-width="0.12">Intensity</text>
<circle cx="317.0" cy="271.6" r="2.0" fill="#8b1a7b"/>
<text x="317.0" y="278.20000000000005" text-anchor="middle" font-family='"Liberation Sans", sans-serif' font-size="3.4" fill="#222">Time, min</text>
<polyline points="74.9,166.5 73.5,168.5 69.5,171" fill="none" stroke="#555" stroke-width="0.4"/>
<rect x="101" y="255.3" width="0" height="0"/>
<path d="M41.5,255.8 L43.2,257.5 L41.5,259.2 L39.8,257.5 Z" fill="#1a1aaa"/>
<polygon points="71.6,501 72.3,448 74.8,448 75.3,501" fill="#cfd0f3" fill-opacity="0.8"/>
<line x1="44.4" y1="342.59999999999997" x2="44.4" y2="555.9" stroke="#6a6a6a" stroke-width="0.75"/>
<line x1="44.4" y1="555.6" x2="588.0" y2="555.6" stroke="#8a8a8a" stroke-width="0.75"/>
<line x1="42.8" y1="555.60" x2="44.4" y2="555.60" stroke="#555" stroke-width="0.6"/>
<text x="41.5" y="557.05" text-anchor="end" font-family='"Liberation Sans", sans-serif' font-size="4.0" font-weight="bold" textLength="8.4" lengthAdjust="spacingAndGlyphs" fill="#222">0.0e0</text>
<line x1="42.8" y1="541.44" x2="44.4" y2="541.44" stroke="#555" stroke-width="0.6"/>
<text x="41.5" y="542.89" text-anchor="end" font-family='"Liberation Sans", sans-serif' font-size="4.0" font-weight="bold" textLength="8.4" lengthAdjust="spacingAndGlyphs" fill="#222">5.0e6</text>
<line x1="42.8" y1="527.28" x2="44.4" y2="527.28" stroke="#555" stroke-width="0.6"/>
<text x="41.5" y="528.73" text-anchor="end" font-family='"Liberation Sans", sans-serif' font-size="4.0" font-weight="bold" textLength="8.4" lengthAdjust="spacingAndGlyphs" fill="#222">1.0e7</text>
<line x1="42.8" y1="513.12" x2="44.4" y2="513.12" stroke="#555" stroke-width="0.6"/>
<text x="41.5" y="514.57" text-anchor="end" font-family='"Liberation Sans", sans-serif' font-size="4.0" font-weight="bold" textLength="8.4" lengthAdjust="spacingAndGlyphs" fill="#222">1.5e7</text>
<line x1="42.8" y1="498.96" x2="44.4" y2="498.96" stroke="#555" stroke-width="0.6"/>
<text x="41.5" y="500.41" text-anchor="end" font-family='"Liberation Sans", sans-serif' font-size="4.0" font-weight="bold" textLength="8.4" lengthAdjust="spacingAndGlyphs" fill="#222">2.0e7</text>
<line x1="42.8" y1="484.80" x2="44.4" y2="484.80" stroke="#555" stroke-width="0.6"/>
<text x="41.5" y="486.25" text-anchor="end" font-family='"Liberation Sans", sans-serif' font-size="4.0" font-weight="bold" textLength="8.4" lengthAdjust="spacingAndGlyphs" fill="#222">2.5e7</text>
<line x1="42.8" y1="470.64" x2="44.4" y2="470.64" stroke="#555" stroke-width="0.6"/>
<text x="41.5" y="472.09" text-anchor="end" font-family='"Liberation Sans", sans-serif' font-size="4.0" font-weight="bold" textLength="8.4" lengthAdjust="spacingAndGlyphs" fill="#222">3.0e7</text>
<line x1="42.8" y1="456.48" x2="44.4" y2="456.48" stroke="#555" stroke-width="0.6"/>
<text x="41.5" y="457.93" text-anchor="end" font-family='"Liberation Sans", sans-serif' font-size="4.0" font-weight="bold" textLength="8.4" lengthAdjust="spacingAndGlyphs" fill="#222">3.5e7</text>
<line x1="42.8" y1="442.32" x2="44.4" y2="442.32" stroke="#555" stroke-width="0.6"/>
<text x="41.5" y="443.77" text-anchor="end" font-family='"Liberation Sans", sans-serif' font-size="4.0" font-weight="bold" textLength="8.4" lengthAdjust="spacingAndGlyphs" fill="#222">4.0e7</text>
<line x1="42.8" y1="428.16" x2="44.4" y2="428.16" stroke="#555" stroke-width="0.6"/>
<text x="41.5" y="429.61" text-anchor="end" font-family='"Liberation Sans", sans-serif' font-size="4.0" font-weight="bold" textLength="8.4" lengthAdjust="spacingAndGlyphs" fill="#222">4.5e7</text>
<line x1="42.8" y1="414.00" x2="44.4" y2="414.00" stroke="#555" stroke-width="0.6"/>
<text x="41.5" y="415.45" text-anchor="end" font-family='"Liberation Sans", sans-serif' font-size="4.0" font-weight="bold" textLength="8.4" lengthAdjust="spacingAndGlyphs" fill="#222">5.0e7</text>
<line x1="42.8" y1="399.84" x2="44.4" y2="399.84" stroke="#555" stroke-width="0.6"/>
<text x="41.5" y="401.29" text-anchor="end" font-family='"Liberation Sans", sans-serif' font-size="4.0" font-weight="bold" textLength="8.4" lengthAdjust="spacingAndGlyphs" fill="#222">5.5e7</text>
<line x1="42.8" y1="385.68" x2="44.4" y2="385.68" stroke="#555" stroke-width="0.6"/>
<text x="41.5" y="387.13" text-anchor="end" font-family='"Liberation Sans", sans-serif' font-size="4.0" font-weight="bold" textLength="8.4" lengthAdjust="spacingAndGlyphs" fill="#222">6.0e7</text>
<line x1="42.8" y1="371.52" x2="44.4" y2="371.52" stroke="#555" stroke-width="0.6"/>
<text x="41.5" y="372.97" text-anchor="end" font-family='"Liberation Sans", sans-serif' font-size="4.0" font-weight="bold" textLength="8.4" lengthAdjust="spacingAndGlyphs" fill="#222">6.5e7</text>
<line x1="42.8" y1="357.36" x2="44.4" y2="357.36" stroke="#555" stroke-width="0.6"/>
<text x="41.5" y="358.81" text-anchor="end" font-family='"Liberation Sans", sans-serif' font-size="4.0" font-weight="bold" textLength="8.4" lengthAdjust="spacingAndGlyphs" fill="#222">7.0e7</text>
<line x1="42.8" y1="343.20" x2="44.4" y2="343.20" stroke="#555" stroke-width="0.6"/>
<text x="41.5" y="344.65" text-anchor="end" font-family='"Liberation Sans", sans-serif' font-size="4.0" font-weight="bold" textLength="8.4" lengthAdjust="spacingAndGlyphs" fill="#222">7.5e7</text>
<line x1="44.40" y1="555.6" x2="44.40" y2="556.5" stroke="#888" stroke-width="0.4"/>
<line x1="48.93" y1="555.6" x2="48.93" y2="556.5" stroke="#888" stroke-width="0.4"/>
<line x1="53.46" y1="555.6" x2="53.46" y2="556.5" stroke="#888" stroke-width="0.4"/>
<line x1="57.99" y1="555.6" x2="57.99" y2="556.5" stroke="#888" stroke-width="0.4"/>
<line x1="62.52" y1="555.6" x2="62.52" y2="556.5" stroke="#888" stroke-width="0.4"/>
<line x1="67.05" y1="555.6" x2="67.05" y2="557.2" stroke="#555" stroke-width="0.6"/>
<text x="67.05" y="560.70" text-anchor="middle" font-family='"Liberation Sans", sans-serif' font-size="3.9" font-weight="bold" fill="#222">0.5</text>
<line x1="71.58" y1="555.6" x2="71.58" y2="556.5" stroke="#888" stroke-width="0.4"/>
<line x1="76.11" y1="555.6" x2="76.11" y2="556.5" stroke="#888" stroke-width="0.4"/>
<line x1="80.64" y1="555.6" x2="80.64" y2="556.5" stroke="#888" stroke-width="0.4"/>
<line x1="85.17" y1="555.6" x2="85.17" y2="556.5" stroke="#888" stroke-width="0.4"/>
<line x1="89.70" y1="555.6" x2="89.70" y2="557.2" stroke="#555" stroke-width="0.6"/>
<text x="89.70" y="560.70" text-anchor="middle" font-family='"Liberation Sans", sans-serif' font-size="3.9" font-weight="bold" fill="#222">1.0</text>
<line x1="94.23" y1="555.6" x2="94.23" y2="556.5" stroke="#888" stroke-width="0.4"/>
<line x1="98.76" y1="555.6" x2="98.76" y2="556.5" stroke="#888" stroke-width="0.4"/>
<line x1="103.29" y1="555.6" x2="103.29" y2="556.5" stroke="#888" stroke-width="0.4"/>
<line x1="107.82" y1="555.6" x2="107.82" y2="556.5" stroke="#888" stroke-width="0.4"/>
<line x1="112.35" y1="555.6" x2="112.35" y2="557.2" stroke="#555" stroke-width="0.6"/>
<text x="112.35" y="560.70" text-anchor="middle" font-family='"Liberation Sans", sans-serif' font-size="3.9" font-weight="bold" fill="#222">1.5</text>
<line x1="116.88" y1="555.6" x2="116.88" y2="556.5" stroke="#888" stroke-width="0.4"/>
<line x1="121.41" y1="555.6" x2="121.41" y2="556.5" stroke="#888" stroke-width="0.4"/>
<line x1="125.94" y1="555.6" x2="125.94" y2="556.5" stroke="#888" stroke-width="0.4"/>
<line x1="130.47" y1="555.6" x2="130.47" y2="556.5" stroke="#888" stroke-width="0.4"/>
<line x1="135.00" y1="555.6" x2="135.00" y2="557.2" stroke="#555" stroke-width="0.6"/>
<text x="135.00" y="560.70" text-anchor="middle" font-family='"Liberation Sans", sans-serif' font-size="3.9" font-weight="bold" fill="#222">2.0</text>
<line x1="139.53" y1="555.6" x2="139.53" y2="556.5" stroke="#888" stroke-width="0.4"/>
<line x1="144.06" y1="555.6" x2="144.06" y2="556.5" stroke="#888" stroke-width="0.4"/>
<line x1="148.59" y1="555.6" x2="148.59" y2="556.5" stroke="#888" stroke-width="0.4"/>
<line x1="153.12" y1="555.6" x2="153.12" y2="556.5" stroke="#888" stroke-width="0.4"/>
<line x1="157.65" y1="555.6" x2="157.65" y2="557.2" stroke="#555" stroke-width="0.6"/>
<text x="157.65" y="560.70" text-anchor="middle" font-family='"Liberation Sans", sans-serif' font-size="3.9" font-weight="bold" fill="#222">2.5</text>
<line x1="162.18" y1="555.6" x2="162.18" y2="556.5" stroke="#888" stroke-width="0.4"/>
<line x1="166.71" y1="555.6" x2="166.71" y2="556.5" stroke="#888" stroke-width="0.4"/>
<line x1="171.24" y1="555.6" x2="171.24" y2="556.5" stroke="#888" stroke-width="0.4"/>
<line x1="175.77" y1="555.6" x2="175.77" y2="556.5" stroke="#888" stroke-width="0.4"/>
<line x1="180.30" y1="555.6" x2="180.30" y2="557.2" stroke="#555" stroke-width="0.6"/>
<text x="180.30" y="560.70" text-anchor="middle" font-family='"Liberation Sans", sans-serif' font-size="3.9" font-weight="bold" fill="#222">3.0</text>
<line x1="184.83" y1="555.6" x2="184.83" y2="556.5" stroke="#888" stroke-width="0.4"/>
<line x1="189.36" y1="555.6" x2="189.36" y2="556.5" stroke="#888" stroke-width="0.4"/>
<line x1="193.89" y1="555.6" x2="193.89" y2="556.5" stroke="#888" stroke-width="0.4"/>
<line x1="198.42" y1="555.6" x2="198.42" y2="556.5" stroke="#888" stroke-width="0.4"/>
<line x1="202.95" y1="555.6" x2="202.95" y2="557.2" stroke="#555" stroke-width="0.6"/>
<text x="202.95" y="560.70" text-anchor="middle" font-family='"Liberation Sans", sans-serif' font-size="3.9" font-weight="bold" fill="#222">3.5</text>
<line x1="207.48" y1="555.6" x2="207.48" y2="556.5" stroke="#888" stroke-width="0.4"/>
<line x1="212.01" y1="555.6" x2="212.01" y2="556.5" stroke="#888" stroke-width="0.4"/>
<line x1="216.54" y1="555.6" x2="216.54" y2="556.5" stroke="#888" stroke-width="0.4"/>
<line x1="221.07" y1="555.6" x2="221.07" y2="556.5" stroke="#888" stroke-width="0.4"/>
<line x1="225.60" y1="555.6" x2="225.60" y2="557.2" stroke="#555" stroke-width="0.6"/>
<text x="225.60" y="560.70" text-anchor="middle" font-family='"Liberation Sans", sans-serif' font-size="3.9" font-weight="bold" fill="#222">4.0</text>
<line x1="230.13" y1="555.6" x2="230.13" y2="556.5" stroke="#888" stroke-width="0.4"/>
<line x1="234.66" y1="555.6" x2="234.66" y2="556.5" stroke="#888" stroke-width="0.4"/>
<line x1="239.19" y1="555.6" x2="239.19" y2="556.5" stroke="#888" stroke-width="0.4"/>
<line x1="243.72" y1="555.6" x2="243.72" y2="556.5" stroke="#888" stroke-width="0.4"/>
<line x1="248.25" y1="555.6" x2="248.25" y2="557.2" stroke="#555" stroke-width="0.6"/>
<text x="248.25" y="560.70" text-anchor="middle" font-family='"Liberation Sans", sans-serif' font-size="3.9" font-weight="bold" fill="#222">4.5</text>
<line x1="252.78" y1="555.6" x2="252.78" y2="556.5" stroke="#888" stroke-width="0.4"/>
<line x1="257.31" y1="555.6" x2="257.31" y2="556.5" stroke="#888" stroke-width="0.4"/>
<line x1="261.84" y1="555.6" x2="261.84" y2="556.5" stroke="#888" stroke-width="0.4"/>
<line x1="266.37" y1="555.6" x2="266.37" y2="556.5" stroke="#888" stroke-width="0.4"/>
<line x1="270.90" y1="555.6" x2="270.90" y2="557.2" stroke="#555" stroke-width="0.6"/>
<text x="270.90" y="560.70" text-anchor="middle" font-family='"Liberation Sans", sans-serif' font-size="3.9" font-weight="bold" fill="#222">5.0</text>
<line x1="275.43" y1="555.6" x2="275.43" y2="556.5" stroke="#888" stroke-width="0.4"/>
<line x1="279.96" y1="555.6" x2="279.96" y2="556.5" stroke="#888" stroke-width="0.4"/>
<line x1="284.49" y1="555.6" x2="284.49" y2="556.5" stroke="#888" stroke-width="0.4"/>
<line x1="289.02" y1="555.6" x2="289.02" y2="556.5" stroke="#888" stroke-width="0.4"/>
<line x1="293.55" y1="555.6" x2="293.55" y2="557.2" stroke="#555" stroke-width="0.6"/>
<text x="293.55" y="560.70" text-anchor="middle" font-family='"Liberation Sans", sans-serif' font-size="3.9" font-weight="bold" fill="#222">5.5</text>
<line x1="298.08" y1="555.6" x2="298.08" y2="556.5" stroke="#888" stroke-width="0.4"/>
<line x1="302.61" y1="555.6" x2="302.61" y2="556.5" stroke="#888" stroke-width="0.4"/>
<line x1="307.14" y1="555.6" x2="307.14" y2="556.5" stroke="#888" stroke-width="0.4"/>
<line x1="311.67" y1="555.6" x2="311.67" y2="556.5" stroke="#888" stroke-width="0.4"/>
<line x1="316.20" y1="555.6" x2="316.20" y2="557.2" stroke="#555" stroke-width="0.6"/>
<text x="316.20" y="560.70" text-anchor="middle" font-family='"Liberation Sans", sans-serif' font-size="3.9" font-weight="bold" fill="#222"></text>
<line x1="320.73" y1="555.6" x2="320.73" y2="556.5" stroke="#888" stroke-width="0.4"/>
<line x1="325.26" y1="555.6" x2="325.26" y2="556.5" stroke="#888" stroke-width="0.4"/>
<line x1="329.79" y1="555.6" x2="329.79" y2="556.5" stroke="#888" stroke-width="0.4"/>
<line x1="334.32" y1="555.6" x2="334.32" y2="556.5" stroke="#888" stroke-width="0.4"/>
<line x1="338.85" y1="555.6" x2="338.85" y2="557.2" stroke="#555" stroke-width="0.6"/>
<text x="338.85" y="560.70" text-anchor="middle" font-family='"Liberation Sans", sans-serif' font-size="3.9" font-weight="bold" fill="#222">6.5</text>
<line x1="343.38" y1="555.6" x2="343.38" y2="556.5" stroke="#888" stroke-width="0.4"/>
<line x1="347.91" y1="555.6" x2="347.91" y2="556.5" stroke="#888" stroke-width="0.4"/>
<line x1="352.44" y1="555.6" x2="352.44" y2="556.5" stroke="#888" stroke-width="0.4"/>
<line x1="356.97" y1="555.6" x2="356.97" y2="556.5" stroke="#888" stroke-width="0.4"/>
<line x1="361.50" y1="555.6" x2="361.50" y2="557.2" stroke="#555" stroke-width="0.6"/>
<text x="361.50" y="560.70" text-anchor="middle" font-family='"Liberation Sans", sans-serif' font-size="3.9" font-weight="bold" fill="#222">7.0</text>
<line x1="366.03" y1="555.6" x2="366.03" y2="556.5" stroke="#888" stroke-width="0.4"/>
<line x1="370.56" y1="555.6" x2="370.56" y2="556.5" stroke="#888" stroke-width="0.4"/>
<line x1="375.09" y1="555.6" x2="375.09" y2="556.5" stroke="#888" stroke-width="0.4"/>
<line x1="379.62" y1="555.6" x2="379.62" y2="556.5" stroke="#888" stroke-width="0.4"/>
<line x1="384.15" y1="555.6" x2="384.15" y2="557.2" stroke="#555" stroke-width="0.6"/>
<text x="384.15" y="560.70" text-anchor="middle" font-family='"Liberation Sans", sans-serif' font-size="3.9" font-weight="bold" fill="#222">7.5</text>
<line x1="388.68" y1="555.6" x2="388.68" y2="556.5" stroke="#888" stroke-width="0.4"/>
<line x1="393.21" y1="555.6" x2="393.21" y2="556.5" stroke="#888" stroke-width="0.4"/>
<line x1="397.74" y1="555.6" x2="397.74" y2="556.5" stroke="#888" stroke-width="0.4"/>
<line x1="402.27" y1="555.6" x2="402.27" y2="556.5" stroke="#888" stroke-width="0.4"/>
<line x1="406.80" y1="555.6" x2="406.80" y2="557.2" stroke="#555" stroke-width="0.6"/>
<text x="406.80" y="560.70" text-anchor="middle" font-family='"Liberation Sans", sans-serif' font-size="3.9" font-weight="bold" fill="#222">8.0</text>
<line x1="411.33" y1="555.6" x2="411.33" y2="556.5" stroke="#888" stroke-width="0.4"/>
<line x1="415.86" y1="555.6" x2="415.86" y2="556.5" stroke="#888" stroke-width="0.4"/>
<line x1="420.39" y1="555.6" x2="420.39" y2="556.5" stroke="#888" stroke-width="0.4"/>
<line x1="424.92" y1="555.6" x2="424.92" y2="556.5" stroke="#888" stroke-width="0.4"/>
<line x1="429.45" y1="555.6" x2="429.45" y2="557.2" stroke="#555" stroke-width="0.6"/>
<text x="429.45" y="560.70" text-anchor="middle" font-family='"Liberation Sans", sans-serif' font-size="3.9" font-weight="bold" fill="#222">8.5</text>
<line x1="433.98" y1="555.6" x2="433.98" y2="556.5" stroke="#888" stroke-width="0.4"/>
<line x1="438.51" y1="555.6" x2="438.51" y2="556.5" stroke="#888" stroke-width="0.4"/>
<line x1="443.04" y1="555.6" x2="443.04" y2="556.5" stroke="#888" stroke-width="0.4"/>
<line x1="447.57" y1="555.6" x2="447.57" y2="556.5" stroke="#888" stroke-width="0.4"/>
<line x1="452.10" y1="555.6" x2="452.10" y2="557.2" stroke="#555" stroke-width="0.6"/>
<text x="452.10" y="560.70" text-anchor="middle" font-family='"Liberation Sans", sans-serif' font-size="3.9" font-weight="bold" fill="#222">9.0</text>
<line x1="456.63" y1="555.6" x2="456.63" y2="556.5" stroke="#888" stroke-width="0.4"/>
<line x1="461.16" y1="555.6" x2="461.16" y2="556.5" stroke="#888" stroke-width="0.4"/>
<line x1="465.69" y1="555.6" x2="465.69" y2="556.5" stroke="#888" stroke-width="0.4"/>
<line x1="470.22" y1="555.6" x2="470.22" y2="556.5" stroke="#888" stroke-width="0.4"/>
<line x1="474.75" y1="555.6" x2="474.75" y2="557.2" stroke="#555" stroke-width="0.6"/>
<text x="474.75" y="560.70" text-anchor="middle" font-family='"Liberation Sans", sans-serif' font-size="3.9" font-weight="bold" fill="#222">9.5</text>
<line x1="479.28" y1="555.6" x2="479.28" y2="556.5" stroke="#888" stroke-width="0.4"/>
<line x1="483.81" y1="555.6" x2="483.81" y2="556.5" stroke="#888" stroke-width="0.4"/>
<line x1="488.34" y1="555.6" x2="488.34" y2="556.5" stroke="#888" stroke-width="0.4"/>
<line x1="492.87" y1="555.6" x2="492.87" y2="556.5" stroke="#888" stroke-width="0.4"/>
<line x1="497.40" y1="555.6" x2="497.40" y2="557.2" stroke="#555" stroke-width="0.6"/>
<text x="497.40" y="560.70" text-anchor="middle" font-family='"Liberation Sans", sans-serif' font-size="3.9" font-weight="bold" fill="#222">10.0</text>
<line x1="501.93" y1="555.6" x2="501.93" y2="556.5" stroke="#888" stroke-width="0.4"/>
<line x1="506.46" y1="555.6" x2="506.46" y2="556.5" stroke="#888" stroke-width="0.4"/>
<line x1="510.99" y1="555.6" x2="510.99" y2="556.5" stroke="#888" stroke-width="0.4"/>
<line x1="515.52" y1="555.6" x2="515.52" y2="556.5" stroke="#888" stroke-width="0.4"/>
<line x1="520.05" y1="555.6" x2="520.05" y2="557.2" stroke="#555" stroke-width="0.6"/>
<text x="520.05" y="560.70" text-anchor="middle" font-family='"Liberation Sans", sans-serif' font-size="3.9" font-weight="bold" fill="#222">10.5</text>
<line x1="524.58" y1="555.6" x2="524.58" y2="556.5" stroke="#888" stroke-width="0.4"/>
<line x1="529.11" y1="555.6" x2="529.11" y2="556.5" stroke="#888" stroke-width="0.4"/>
<line x1="533.64" y1="555.6" x2="533.64" y2="556.5" stroke="#888" stroke-width="0.4"/>
<line x1="538.17" y1="555.6" x2="538.17" y2="556.5" stroke="#888" stroke-width="0.4"/>
<line x1="542.70" y1="555.6" x2="542.70" y2="557.2" stroke="#555" stroke-width="0.6"/>
<text x="542.70" y="560.70" text-anchor="middle" font-family='"Liberation Sans", sans-serif' font-size="3.9" font-weight="bold" fill="#222">11.0</text>
<line x1="547.23" y1="555.6" x2="547.23" y2="556.5" stroke="#888" stroke-width="0.4"/>
<line x1="551.76" y1="555.6" x2="551.76" y2="556.5" stroke="#888" stroke-width="0.4"/>
<line x1="556.29" y1="555.6" x2="556.29" y2="556.5" stroke="#888" stroke-width="0.4"/>
<line x1="560.82" y1="555.6" x2="560.82" y2="556.5" stroke="#888" stroke-width="0.4"/>
<line x1="565.35" y1="555.6" x2="565.35" y2="557.2" stroke="#555" stroke-width="0.6"/>
<text x="565.35" y="560.70" text-anchor="middle" font-family='"Liberation Sans", sans-serif' font-size="3.9" font-weight="bold" fill="#222">11.5</text>
<line x1="569.88" y1="555.6" x2="569.88" y2="556.5" stroke="#888" stroke-width="0.4"/>
<line x1="574.41" y1="555.6" x2="574.41" y2="556.5" stroke="#888" stroke-width="0.4"/>
<line x1="578.94" y1="555.6" x2="578.94" y2="556.5" stroke="#888" stroke-width="0.4"/>
<line x1="583.47" y1="555.6" x2="583.47" y2="556.5" stroke="#888" stroke-width="0.4"/>
<line x1="588.00" y1="555.6" x2="588.00" y2="557.2" stroke="#555" stroke-width="0.6"/>
<text x="588.00" y="560.70" text-anchor="middle" font-family='"Liberation Sans", sans-serif' font-size="3.9" font-weight="bold" fill="#222"></text>
<polyline points="44.5,548.0 45.5,545.0 62.0,544.3 63.0,540.0 64.0,515.0 64.8,501.0 65.5,512.0 66.5,528.0 68.0,533.0 69.0,518.0 69.8,430.0 70.4,407.0 70.9,440.0 71.5,485.0 72.0,500.0 72.5,455.0 73.0,400.0 73.6,360.0 73.9,352.0 74.4,390.0 75.0,460.0 76.0,528.0 77.4,543.0 79.0,545.0 81.0,538.0 82.5,480.0 83.8,441.0 84.8,470.0 85.5,515.0 87.0,542.0 90.0,545.0 100.0,544.0 120.0,542.5 133.0,541.5 145.0,543.5 160.0,545.5 170.0,547.0 175.0,548.0 178.1,543.0 180.4,549.0 182.0,549.0 182.7,549.0 183.4,549.0 184.1,549.0 184.8,549.0 185.5,549.0 186.2,549.0 186.9,549.0 187.6,549.0 188.3,549.0 189.0,549.1 189.7,549.1 190.4,549.1 191.1,549.1 191.8,549.1 192.5,549.1 193.2,549.1 193.9,549.1 194.6,549.1 195.3,549.1 196.0,549.1 196.7,549.1 197.4,549.1 198.1,549.1 198.8,549.1 199.5,549.1 200.2,549.1 200.9,549.1 201.6,549.2 202.3,549.2 203.0,549.2 203.7,549.2 204.4,549.2 205.1,549.2 205.8,549.2 206.5,549.2 207.2,549.2 207.9,549.2 208.6,549.2 209.3,549.2 210.0,549.2 210.7,549.2 211.4,549.2 212.1,549.2 212.8,549.2 213.5,549.2 214.2,549.3 214.9,549.3 215.6,549.3 216.3,549.3 217.0,549.3 217.7,549.3 218.4,549.3 219.1,549.3 219.8,549.3 220.5,549.3 221.2,549.3 221.9,549.3 222.6,549.3 223.3,549.2 224.0,549.2 224.7,549.2 225.4,549.2 226.1,549.2 226.8,549.2 227.5,549.2 228.2,549.2 228.9,549.2 229.6,549.1 230.3,549.1 231.0,549.1 231.7,549.1 232.4,549.1 233.1,549.1 233.8,549.1 234.5,549.1 235.2,549.1 235.9,549.0 236.6,549.0 237.3,549.0 238.0,549.0 238.7,549.0 239.4,549.0 240.1,549.0 240.8,549.0 241.5,549.0 242.2,548.9 242.9,548.9 243.6,548.9 244.3,548.9 245.0,548.9 245.7,548.9 246.4,549.0 247.1,549.0 247.8,549.0 248.5,549.0 249.2,549.1 249.9,549.1 250.6,549.1 251.3,549.2 252.0,549.2 252.7,549.2 253.4,549.2 254.1,549.3 254.8,549.3 255.5,549.3 256.2,549.3 256.9,549.4 257.6,549.4 258.3,549.4 259.0,549.5 259.7,549.5 260.4,549.5 261.1,549.5 261.8,549.6 262.5,549.6 263.2,549.6 263.9,549.7 264.6,549.7 265.3,549.7 266.0,549.7 266.7,549.8 267.4,549.8 268.1,549.8 268.8,549.9 269.5,549.9 270.2,549.9 270.9,549.9 271.6,550.0 272.3,550.0 273.0,550.0 273.7,550.0 274.4,550.0 275.1,550.1 275.8,550.1 276.5,550.1 277.2,550.1 277.9,550.2 278.6,550.2 279.3,550.2 280.0,550.2 280.7,550.2 281.4,550.3 282.1,550.3 282.8,550.3 283.5,550.3 284.2,550.4 284.9,550.4 285.6,550.4 286.3,550.4 287.0,550.4 287.7,550.5 288.4,550.5 289.1,550.5 289.8,550.5 290.5,550.6 291.2,550.6 291.9,550.6 292.6,550.6 293.3,550.6 294.0,550.7 294.7,550.7 295.4,550.7 296.1,550.7 296.8,550.8 297.5,550.8 298.2,550.8 298.9,550.8 299.6,550.8 300.3,550.8 301.0,550.8 301.7,550.8 302.4,550.8 303.1,550.8 303.8,550.8 304.5,550.8 305.2,550.8 305.9,550.8 306.6,550.8 307.3,550.8 308.0,550.8 308.7,550.8 309.4,550.7 310.1,550.7 310.8,550.5 311.5,550.3 312.2,549.9 312.9,549.3 313.6,548.4 314.3,547.0 315.0,545.0 315.7,542.3 316.4,538.9 317.1,534.7 317.8,529.9 318.5,524.8 319.2,519.6 319.9,515.0 320.6,511.2 321.3,508.7 322.0,507.9 322.7,508.3 323.4,509.5 324.1,511.5 324.8,514.1 325.5,517.2 326.2,520.6 326.9,524.2 327.6,527.8 328.3,531.3 329.0,534.6 329.7,537.6 330.4,540.2 331.1,542.5 331.8,544.4 332.5,545.9 333.2,547.2 333.9,548.1 334.6,548.8 335.3,549.4 336.0,549.8 336.7,550.1 337.4,550.2 338.1,550.4 338.8,550.5 339.5,550.5 340.2,550.5 340.9,550.6 341.6,550.6 342.3,550.6 343.0,550.6 343.7,550.6 344.4,550.6 345.1,550.6 345.8,550.6 346.5,550.6 347.2,550.6 347.9,550.6 348.6,550.6 349.3,550.6 350.0,550.6 350.7,550.6 351.4,550.6 352.1,550.6 352.8,550.6 353.5,550.6 354.2,550.6 354.9,550.6 355.6,550.5 356.3,550.5 357.0,550.5 357.7,550.5 358.4,550.5 359.1,550.5 359.8,550.5 360.5,550.5 361.2,550.5 361.9,550.5 362.6,550.5 363.3,550.5 364.0,550.5 364.7,550.5 365.4,550.5 366.1,550.5 366.8,550.5 367.5,550.5 368.2,550.5 368.9,550.5 369.6,550.5 370.3,550.5 371.0,550.5 371.7,550.5 372.4,550.5 373.1,550.5 373.8,550.5 374.5,550.5 375.2,550.5 375.9,550.5 376.6,550.5 377.3,550.5 378.0,550.5 378.7,550.5 379.4,550.5 380.1,550.5 380.8,550.5 381.5,550.5 382.2,550.5 382.9,550.5 383.6,550.5 384.3,550.5 385.0,550.4 385.7,550.4 386.4,550.4 387.1,550.4 387.8,550.4 388.5,550.4 389.2,550.4 389.9,550.4 390.6,550.4 391.3,550.4 392.0,550.4 392.7,550.4 393.4,550.4 394.1,550.4 394.8,550.4 395.5,550.4 396.2,550.4 396.9,550.4 397.6,550.4 398.3,550.4 399.0,550.4 399.7,550.4 400.4,550.4 401.1,550.4 401.8,550.4 402.5,550.4 403.2,550.3 403.9,550.3 404.6,550.3 405.3,550.3 406.0,550.2 406.7,550.2 407.4,550.1 408.1,550.0 408.8,549.9 409.5,549.7 410.2,549.6 410.9,549.3 411.6,549.1 412.3,548.8 413.0,548.5 413.7,548.2 414.4,548.0 415.1,547.8 415.8,547.6 416.5,547.5 417.2,547.5 417.9,547.6 418.6,547.6 419.3,547.7 420.0,547.9 420.7,548.0 421.4,548.2 422.1,548.3 422.8,548.5 423.5,548.7 424.2,548.9 424.9,549.0 425.6,549.2 426.3,549.3 427.0,549.4 427.7,549.5 428.4,549.6 429.1,549.7 429.8,549.8 430.5,549.8 431.2,549.8 431.9,549.9 432.6,549.9 433.3,549.9 434.0,549.9 434.7,549.9 435.4,549.9 436.1,549.9 436.8,549.9 437.5,549.9 438.2,549.9 438.9,549.9 439.6,549.9 440.3,549.9 441.0,549.9 441.7,549.9 442.4,549.9 443.1,549.9 443.8,549.9 444.5,549.9 445.2,549.9 445.9,549.9 446.6,549.9 447.3,549.9 448.0,549.9 448.7,549.9 449.4,549.9 450.1,549.8 450.8,549.8 451.5,549.8 452.2,549.8 452.9,549.8 453.6,549.8 454.3,549.8 455.0,549.8 455.7,549.8 456.4,549.8 457.1,549.8 457.8,549.8 458.5,549.8 459.2,549.8 459.9,549.8 460.6,549.8 461.3,549.8 462.0,549.8 462.7,549.8 463.4,549.7 464.1,549.7 464.8,549.7 465.5,549.7 466.2,549.7 466.9,549.7 467.6,549.7 468.3,549.7 469.0,549.7 469.7,549.7 470.4,549.7 471.1,549.7 471.8,549.7 472.5,549.7 473.2,549.6 473.9,549.6 474.6,549.6 475.3,549.6 476.0,549.6 476.7,549.6 477.4,549.6 478.1,549.6 478.8,549.6 479.5,549.5 480.2,549.5 480.9,549.5 481.6,549.5 482.3,549.5 483.0,549.5 483.7,549.5 484.4,549.5 485.1,549.5 485.8,549.4 486.5,549.4 487.2,549.4 487.9,549.4 488.6,549.4 489.3,549.4 490.0,549.4 490.7,549.4 491.4,549.4 492.1,549.3 492.8,549.3 493.5,549.3 494.2,549.3 494.9,549.3 495.6,549.3 496.3,549.3 497.0,549.3 497.7,549.3 498.4,549.2 499.1,549.2 499.8,549.2 500.5,549.2 501.2,549.2 501.9,549.2 502.6,549.2 503.3,549.2 504.0,549.2 504.7,549.1 505.4,549.1 506.1,549.1 506.8,549.1 507.5,549.1 508.2,549.1 508.9,549.1 509.6,549.1 510.3,549.1 511.0,549.0 511.7,549.0 512.4,549.0 513.1,549.0 513.8,549.0 514.5,549.0 515.2,549.0 515.9,549.0 516.6,549.0 517.3,548.9 518.0,548.9 518.7,548.9 519.4,548.9 520.1,548.9 520.8,548.9 521.5,548.9 522.2,548.9 522.9,548.9 523.6,548.9 524.3,548.9 525.0,548.9 525.7,548.8 526.4,548.8 527.1,548.8 527.8,548.8 528.5,548.8 529.2,548.8 529.9,548.8 530.6,548.8 531.3,548.8 532.0,548.8 532.7,548.8 533.4,548.8 534.1,548.8 534.8,548.8 535.5,548.8 536.2,548.8 536.9,548.8 537.6,548.7 538.3,548.7 539.0,548.7 539.7,548.7 540.4,548.7 541.1,548.7 541.8,548.7 542.5,548.7 543.2,548.7 543.9,548.7 544.6,548.7 545.3,548.7 546.0,548.7 546.7,548.7 547.4,548.7 548.1,548.7 548.8,548.6 549.5,548.6 550.2,548.6 550.9,548.6 551.6,548.6 552.3,548.6 553.0,548.6 553.7,548.6 554.4,548.6 555.1,548.6 555.8,548.6 556.5,548.6 557.2,548.6 557.9,548.6 558.6,548.6 559.3,548.6 560.0,548.5 560.7,548.5 561.4,548.5 562.1,548.5 562.8,548.5 563.5,548.5 564.2,548.5 564.9,548.5 565.6,548.5 566.3,548.5 567.0,548.5 567.7,548.5 568.4,548.5 569.1,548.5 569.8,548.5 570.5,548.5 571.2,548.4 571.9,548.4 572.6,548.4 573.3,548.4 574.0,548.4 574.7,548.4 575.4,548.4 576.1,548.4 576.8,548.4 577.5,548.4 578.2,548.4 578.9,548.4 579.6,548.4 580.3,548.4 581.0,548.4 581.7,548.4 582.4,548.3 583.1,548.3 583.8,548.3 584.5,548.3 585.2,548.3 585.9,548.3 586.6,548.3 587.3,548.3 588.0,548.3" fill="none" stroke="#ff4040" stroke-width="0.7" stroke-opacity="0.9" stroke-linejoin="round"/>
<polyline points="44.5,548.5 62.0,544.8 64.0,520.0 64.8,505.0 66.5,529.0 68.0,534.0 69.5,460.0 70.4,406.0 71.2,470.0 72.0,504.0 73.2,390.0 73.9,342.5 74.5,395.0 75.5,500.0 77.4,544.0 81.0,540.0 83.8,455.0 85.5,518.0 87.0,543.0 120.0,543.5 150.0,544.5 170.0,547.3 178.1,544.0 180.4,549.4 182.0,549.1 182.7,549.2 183.4,549.2 184.1,549.2 184.8,549.2 185.5,549.2 186.2,549.2 186.9,549.2 187.6,549.2 188.3,549.2 189.0,549.2 189.7,549.2 190.4,549.2 191.1,549.2 191.8,549.2 192.5,549.2 193.2,549.2 193.9,549.2 194.6,549.2 195.3,549.3 196.0,549.3 196.7,549.3 197.4,549.3 198.1,549.3 198.8,549.3 199.5,549.3 200.2,549.3 200.9,549.3 201.6,549.3 202.3,549.3 203.0,549.3 203.7,549.3 204.4,549.3 205.1,549.3 205.8,549.3 206.5,549.3 207.2,549.3 207.9,549.4 208.6,549.4 209.3,549.4 210.0,549.4 210.7,549.4 211.4,549.4 212.1,549.4 212.8,549.4 213.5,549.4 214.2,549.4 214.9,549.4 215.6,549.4 216.3,549.4 217.0,549.4 217.7,549.4 218.4,549.4 219.1,549.4 219.8,549.4 220.5,549.4 221.2,549.4 221.9,549.4 222.6,549.4 223.3,549.4 224.0,549.4 224.7,549.4 225.4,549.4 226.1,549.4 226.8,549.3 227.5,549.3 228.2,549.3 228.9,549.3 229.6,549.3 230.3,549.3 231.0,549.3 231.7,549.3 232.4,549.3 233.1,549.2 233.8,549.2 234.5,549.2 235.2,549.2 235.9,549.2 236.6,549.2 237.3,549.2 238.0,549.2 238.7,549.2 239.4,549.1 240.1,549.1 240.8,549.1 241.5,549.1 242.2,549.1 242.9,549.1 243.6,549.1 244.3,549.1 245.0,549.1 245.7,549.1 246.4,549.1 247.1,549.1 247.8,549.2 248.5,549.2 249.2,549.2 249.9,549.2 250.6,549.3 251.3,549.3 252.0,549.3 252.7,549.4 253.4,549.4 254.1,549.4 254.8,549.4 255.5,549.5 256.2,549.5 256.9,549.5 257.6,549.6 258.3,549.6 259.0,549.6 259.7,549.6 260.4,549.7 261.1,549.7 261.8,549.7 262.5,549.8 263.2,549.8 263.9,549.8 264.6,549.8 265.3,549.9 266.0,549.9 266.7,549.9 267.4,549.9 268.1,550.0 268.8,550.0 269.5,550.0 270.2,550.1 270.9,550.1 271.6,550.1 272.3,550.1 273.0,550.1 273.7,550.2 274.4,550.2 275.1,550.2 275.8,550.2 276.5,550.3 277.2,550.3 277.9,550.3 278.6,550.3 279.3,550.3 280.0,550.4 280.7,550.4 281.4,550.4 282.1,550.4 282.8,550.5 283.5,550.5 284.2,550.5 284.9,550.5 285.6,550.6 286.3,550.6 287.0,550.6 287.7,550.6 288.4,550.6 289.1,550.7 289.8,550.7 290.5,550.7 291.2,550.7 291.9,550.8 292.6,550.8 293.3,550.8 294.0,550.8 294.7,550.8 295.4,550.9 296.1,550.9 296.8,550.9 297.5,550.9 298.2,550.9 298.9,550.9 299.6,550.9 300.3,550.9 301.0,550.9 301.7,550.9 302.4,550.9 303.1,550.9 303.8,550.9 304.5,550.9 305.2,550.9 305.9,550.9 306.6,550.9 307.3,550.9 308.0,550.9 308.7,550.9 309.4,550.9 310.1,550.8 310.8,550.7 311.5,550.5 312.2,550.1 312.9,549.5 313.6,548.6 314.3,547.2 315.0,545.2 315.7,542.6 316.4,539.2 317.1,535.2 317.8,530.5 318.5,525.4 319.2,520.4 319.9,515.8 320.6,512.1 321.3,509.7 322.0,508.9 322.7,509.3 323.4,510.5 324.1,512.4 324.8,515.0 325.5,518.0 326.2,521.3 326.9,524.9 327.6,528.4 328.3,531.8 329.0,535.1 329.7,538.0 330.4,540.6 331.1,542.8 331.8,544.7 332.5,546.2 333.2,547.4 333.9,548.3 334.6,549.0 335.3,549.6 336.0,549.9 336.7,550.2 337.4,550.4 338.1,550.5 338.8,550.6 339.5,550.7 340.2,550.7 340.9,550.7 341.6,550.7 342.3,550.7 343.0,550.7 343.7,550.7 344.4,550.7 345.1,550.7 345.8,550.7 346.5,550.7 347.2,550.7 347.9,550.7 348.6,550.7 349.3,550.7 350.0,550.7 350.7,550.7 351.4,550.7 352.1,550.7 352.8,550.7 353.5,550.7 354.2,550.7 354.9,550.7 355.6,550.7 356.3,550.7 357.0,550.7 357.7,550.7 358.4,550.7 359.1,550.7 359.8,550.7 360.5,550.7 361.2,550.7 361.9,550.7 362.6,550.7 363.3,550.7 364.0,550.7 364.7,550.7 365.4,550.7 366.1,550.7 366.8,550.7 367.5,550.7 368.2,550.7 368.9,550.7 369.6,550.7 370.3,550.6 371.0,550.6 371.7,550.6 372.4,550.6 373.1,550.6 373.8,550.6 374.5,550.6 375.2,550.6 375.9,550.6 376.6,550.6 377.3,550.6 378.0,550.6 378.7,550.6 379.4,550.6 380.1,550.6 380.8,550.6 381.5,550.6 382.2,550.6 382.9,550.6 383.6,550.6 384.3,550.6 385.0,550.6 385.7,550.6 386.4,550.6 387.1,550.6 387.8,550.6 388.5,550.6 389.2,550.6 389.9,550.6 390.6,550.6 391.3,550.6 392.0,550.6 392.7,550.6 393.4,550.6 394.1,550.6 394.8,550.6 395.5,550.6 396.2,550.6 396.9,550.6 397.6,550.6 398.3,550.6 399.0,550.6 399.7,550.6 400.4,550.5 401.1,550.5 401.8,550.5 402.5,550.5 403.2,550.5 403.9,550.5 404.6,550.5 405.3,550.4 406.0,550.4 406.7,550.3 407.4,550.3 408.1,550.2 408.8,550.1 409.5,549.9 410.2,549.7 410.9,549.5 411.6,549.2 412.3,549.0 413.0,548.7 413.7,548.4 414.4,548.2 415.1,547.9 415.8,547.8 416.5,547.7 417.2,547.7 417.9,547.8 418.6,547.8 419.3,547.9 420.0,548.0 420.7,548.2 421.4,548.4 422.1,548.5 422.8,548.7 423.5,548.9 424.2,549.0 424.9,549.2 425.6,549.3 426.3,549.5 427.0,549.6 427.7,549.7 428.4,549.8 429.1,549.9 429.8,549.9 430.5,550.0 431.2,550.0 431.9,550.0 432.6,550.1 433.3,550.1 434.0,550.1 434.7,550.1 435.4,550.1 436.1,550.1 436.8,550.1 437.5,550.1 438.2,550.1 438.9,550.1 439.6,550.1 440.3,550.1 441.0,550.1 441.7,550.1 442.4,550.1 443.1,550.1 443.8,550.0 444.5,550.0 445.2,550.0 445.9,550.0 446.6,550.0 447.3,550.0 448.0,550.0 448.7,550.0 449.4,550.0 450.1,550.0 450.8,550.0 451.5,550.0 452.2,550.0 452.9,550.0 453.6,550.0 454.3,550.0 455.0,550.0 455.7,550.0 456.4,550.0 457.1,549.9 457.8,549.9 458.5,549.9 459.2,549.9 459.9,549.9 460.6,549.9 461.3,549.9 462.0,549.9 462.7,549.9 463.4,549.9 464.1,549.9 464.8,549.9 465.5,549.9 466.2,549.9 466.9,549.9 467.6,549.9 468.3,549.9 469.0,549.9 469.7,549.9 470.4,549.8 471.1,549.8 471.8,549.8 472.5,549.8 473.2,549.8 473.9,549.8 474.6,549.8 475.3,549.8 476.0,549.8 476.7,549.7 477.4,549.7 478.1,549.7 478.8,549.7 479.5,549.7 480.2,549.7 480.9,549.7 481.6,549.7 482.3,549.7 483.0,549.6 483.7,549.6 484.4,549.6 485.1,549.6 485.8,549.6 486.5,549.6 487.2,549.6 487.9,549.6 488.6,549.6 489.3,549.5 490.0,549.5 490.7,549.5 491.4,549.5 492.1,549.5 492.8,549.5 493.5,549.5 494.2,549.5 494.9,549.5 495.6,549.4 496.3,549.4 497.0,549.4 497.7,549.4 498.4,549.4 499.1,549.4 499.8,549.4 500.5,549.4 501.2,549.4 501.9,549.3 502.6,549.3 503.3,549.3 504.0,549.3 504.7,549.3 505.4,549.3 506.1,549.3 506.8,549.3 507.5,549.3 508.2,549.2 508.9,549.2 509.6,549.2 510.3,549.2 511.0,549.2 511.7,549.2 512.4,549.2 513.1,549.2 513.8,549.1 514.5,549.1 515.2,549.1 515.9,549.1 516.6,549.1 517.3,549.1 518.0,549.1 518.7,549.1 519.4,549.1 520.1,549.0 520.8,549.0 521.5,549.0 522.2,549.0 522.9,549.0 523.6,549.0 524.3,549.0 525.0,549.0 525.7,549.0 526.4,549.0 527.1,549.0 527.8,549.0 528.5,549.0 529.2,549.0 529.9,549.0 530.6,549.0 531.3,549.0 532.0,548.9 532.7,548.9 533.4,548.9 534.1,548.9 534.8,548.9 535.5,548.9 536.2,548.9 536.9,548.9 537.6,548.9 538.3,548.9 539.0,548.9 539.7,548.9 540.4,548.9 541.1,548.9 541.8,548.9 542.5,548.9 543.2,548.8 543.9,548.8 544.6,548.8 545.3,548.8 546.0,548.8 546.7,548.8 547.4,548.8 548.1,548.8 548.8,548.8 549.5,548.8 550.2,548.8 550.9,548.8 551.6,548.8 552.3,548.8 553.0,548.8 553.7,548.8 554.4,548.7 555.1,548.7 555.8,548.7 556.5,548.7 557.2,548.7 557.9,548.7 558.6,548.7 559.3,548.7 560.0,548.7 560.7,548.7 561.4,548.7 562.1,548.7 562.8,548.7 563.5,548.7 564.2,548.7 564.9,548.7 565.6,548.6 566.3,548.6 567.0,548.6 567.7,548.6 568.4,548.6 569.1,548.6 569.8,548.6 570.5,548.6 571.2,548.6 571.9,548.6 572.6,548.6 573.3,548.6 574.0,548.6 574.7,548.6 575.4,548.6 576.1,548.6 576.8,548.5 577.5,548.5 578.2,548.5 578.9,548.5 579.6,548.5 580.3,548.5 581.0,548.5 581.7,548.5 582.4,548.5 583.1,548.5 583.8,548.5 584.5,548.5 585.2,548.5 585.9,548.5 586.6,548.5 587.3,548.5 588.0,548.5" fill="none" stroke="#d850e0" stroke-width="0.6" stroke-opacity="0.6" stroke-linejoin="round"/>
<polyline points="44.5,549.0 45.5,546.0 50.0,545.5 62.0,545.0 63.0,541.0 64.0,522.0 64.8,509.0 65.5,516.0 66.5,530.0 68.0,534.0 69.0,520.0 69.8,450.0 70.4,422.0 70.9,452.0 71.5,490.0 72.0,505.0 72.5,470.0 73.0,420.0 73.6,383.0 74.2,402.0 75.0,472.0 76.0,530.0 77.4,544.0 79.0,546.0 81.0,540.0 82.5,500.0 83.5,467.0 84.5,482.0 85.5,522.0 87.0,543.0 90.0,546.0 100.0,545.0 110.0,544.0 120.0,543.5 130.0,542.5 133.0,542.4 140.0,544.0 145.0,544.2 152.0,545.0 160.0,546.1 163.0,545.5 165.0,546.5 168.0,545.8 170.0,547.8 175.0,548.5 178.1,544.2 180.4,549.6 182.0,549.3 182.7,549.3 183.4,549.3 184.1,549.3 184.8,549.3 185.5,549.3 186.2,549.3 186.9,549.3 187.6,549.3 188.3,549.3 189.0,549.4 189.7,549.4 190.4,549.4 191.1,549.4 191.8,549.4 192.5,549.4 193.2,549.4 193.9,549.4 194.6,549.4 195.3,549.4 196.0,549.4 196.7,549.4 197.4,549.4 198.1,549.4 198.8,549.4 199.5,549.4 200.2,549.4 200.9,549.4 201.6,549.5 202.3,549.5 203.0,549.5 203.7,549.5 204.4,549.5 205.1,549.5 205.8,549.5 206.5,549.5 207.2,549.5 207.9,549.5 208.6,549.5 209.3,549.5 210.0,549.5 210.7,549.5 211.4,549.5 212.1,549.5 212.8,549.5 213.5,549.5 214.2,549.6 214.9,549.6 215.6,549.6 216.3,549.6 217.0,549.6 217.7,549.6 218.4,549.6 219.1,549.6 219.8,549.6 220.5,549.6 221.2,549.6 221.9,549.6 222.6,549.6 223.3,549.5 224.0,549.5 224.7,549.5 225.4,549.5 226.1,549.5 226.8,549.5 227.5,549.5 228.2,549.5 228.9,549.5 229.6,549.4 230.3,549.4 231.0,549.4 231.7,549.4 232.4,549.4 233.1,549.4 233.8,549.4 234.5,549.4 235.2,549.4 235.9,549.3 236.6,549.3 237.3,549.3 238.0,549.3 238.7,549.3 239.4,549.3 240.1,549.3 240.8,549.3 241.5,549.3 242.2,549.2 242.9,549.2 243.6,549.2 244.3,549.2 245.0,549.2 245.7,549.2 246.4,549.3 247.1,549.3 247.8,549.3 248.5,549.3 249.2,549.4 249.9,549.4 250.6,549.4 251.3,549.5 252.0,549.5 252.7,549.5 253.4,549.5 254.1,549.6 254.8,549.6 255.5,549.6 256.2,549.6 256.9,549.7 257.6,549.7 258.3,549.7 259.0,549.8 259.7,549.8 260.4,549.8 261.1,549.8 261.8,549.9 262.5,549.9 263.2,549.9 263.9,550.0 264.6,550.0 265.3,550.0 266.0,550.0 266.7,550.1 267.4,550.1 268.1,550.1 268.8,550.2 269.5,550.2 270.2,550.2 270.9,550.2 271.6,550.3 272.3,550.3 273.0,550.3 273.7,550.3 274.4,550.3 275.1,550.4 275.8,550.4 276.5,550.4 277.2,550.4 277.9,550.5 278.6,550.5 279.3,550.5 280.0,550.5 280.7,550.5 281.4,550.6 282.1,550.6 282.8,550.6 283.5,550.6 284.2,550.7 284.9,550.7 285.6,550.7 286.3,550.7 287.0,550.7 287.7,550.8 288.4,550.8 289.1,550.8 289.8,550.8 290.5,550.9 291.2,550.9 291.9,550.9 292.6,550.9 293.3,550.9 294.0,551.0 294.7,551.0 295.4,551.0 296.1,551.0 296.8,551.1 297.5,551.1 298.2,551.1 298.9,551.1 299.6,551.1 300.3,551.1 301.0,551.1 301.7,551.1 302.4,551.1 303.1,551.1 303.8,551.1 304.5,551.1 305.2,551.1 305.9,551.1 306.6,551.1 307.3,551.1 308.0,551.1 308.7,551.1 309.4,551.0 310.1,551.0 310.8,550.8 311.5,550.6 312.2,550.3 312.9,549.7 313.6,548.7 314.3,547.3 315.0,545.4 315.7,542.8 316.4,539.4 317.1,535.3 317.8,530.6 318.5,525.6 319.2,520.6 319.9,516.0 320.6,512.3 321.3,509.9 322.0,509.0 322.7,509.4 323.4,510.6 324.1,512.6 324.8,515.1 325.5,518.1 326.2,521.5 326.9,525.0 327.6,528.6 328.3,532.0 329.0,535.2 329.7,538.1 330.4,540.7 331.1,542.9 331.8,544.8 332.5,546.3 333.2,547.5 333.9,548.5 334.6,549.2 335.3,549.7 336.0,550.1 336.7,550.4 337.4,550.6 338.1,550.7 338.8,550.8 339.5,550.8 340.2,550.8 340.9,550.9 341.6,550.9 342.3,550.9 343.0,550.9 343.7,550.9 344.4,550.9 345.1,550.9 345.8,550.9 346.5,550.9 347.2,550.9 347.9,550.9 348.6,550.9 349.3,550.9 350.0,550.9 350.7,550.9 351.4,550.9 352.1,550.9 352.8,550.9 353.5,550.9 354.2,550.9 354.9,550.9 355.6,550.8 356.3,550.8 357.0,550.8 357.7,550.8 358.4,550.8 359.1,550.8 359.8,550.8 360.5,550.8 361.2,550.8 361.9,550.8 362.6,550.8 363.3,550.8 364.0,550.8 364.7,550.8 365.4,550.8 366.1,550.8 366.8,550.8 367.5,550.8 368.2,550.8 368.9,550.8 369.6,550.8 370.3,550.8 371.0,550.8 371.7,550.8 372.4,550.8 373.1,550.8 373.8,550.8 374.5,550.8 375.2,550.8 375.9,550.8 376.6,550.8 377.3,550.8 378.0,550.8 378.7,550.8 379.4,550.8 380.1,550.8 380.8,550.8 381.5,550.8 382.2,550.8 382.9,550.8 383.6,550.8 384.3,550.8 385.0,550.7 385.7,550.7 386.4,550.7 387.1,550.7 387.8,550.7 388.5,550.7 389.2,550.7 389.9,550.7 390.6,550.7 391.3,550.7 392.0,550.7 392.7,550.7 393.4,550.7 394.1,550.7 394.8,550.7 395.5,550.7 396.2,550.7 396.9,550.7 397.6,550.7 398.3,550.7 399.0,550.7 399.7,550.7 400.4,550.7 401.1,550.7 401.8,550.7 402.5,550.7 403.2,550.6 403.9,550.6 404.6,550.6 405.3,550.6 406.0,550.5 406.7,550.5 407.4,550.4 408.1,550.3 408.8,550.2 409.5,550.1 410.2,549.9 410.9,549.6 411.6,549.4 412.3,549.1 413.0,548.8 413.7,548.6 414.4,548.3 415.1,548.1 415.8,548.0 416.5,547.9 417.2,547.9 417.9,547.9 418.6,548.0 419.3,548.1 420.0,548.2 420.7,548.3 421.4,548.5 422.1,548.7 422.8,548.8 423.5,549.0 424.2,549.2 424.9,549.3 425.6,549.5 426.3,549.6 427.0,549.7 427.7,549.8 428.4,549.9 429.1,550.0 429.8,550.1 430.5,550.1 431.2,550.2 431.9,550.2 432.6,550.2 433.3,550.2 434.0,550.2 434.7,550.2 435.4,550.2 436.1,550.2 436.8,550.2 437.5,550.2 438.2,550.2 438.9,550.2 439.6,550.2 440.3,550.2 441.0,550.2 441.7,550.2 442.4,550.2 443.1,550.2 443.8,550.2 444.5,550.2 445.2,550.2 445.9,550.2 446.6,550.2 447.3,550.2 448.0,550.2 448.7,550.2 449.4,550.2 450.1,550.1 450.8,550.1 451.5,550.1 452.2,550.1 452.9,550.1 453.6,550.1 454.3,550.1 455.0,550.1 455.7,550.1 456.4,550.1 457.1,550.1 457.8,550.1 458.5,550.1 459.2,550.1 459.9,550.1 460.6,550.1 461.3,550.1 462.0,550.1 462.7,550.1 463.4,550.0 464.1,550.0 464.8,550.0 465.5,550.0 466.2,550.0 466.9,550.0 467.6,550.0 468.3,550.0 469.0,550.0 469.7,550.0 470.4,550.0 471.1,550.0 471.8,550.0 472.5,550.0 473.2,549.9 473.9,549.9 474.6,549.9 475.3,549.9 476.0,549.9 476.7,549.9 477.4,549.9 478.1,549.9 478.8,549.9 479.5,549.8 480.2,549.8 480.9,549.8 481.6,549.8 482.3,549.8 483.0,549.8 483.7,549.8 484.4,549.8 485.1,549.8 485.8,549.7 486.5,549.7 487.2,549.7 487.9,549.7 488.6,549.7 489.3,549.7 490.0,549.7 490.7,549.7 491.4,549.7 492.1,549.6 492.8,549.6 493.5,549.6 494.2,549.6 494.9,549.6 495.6,549.6 496.3,549.6 497.0,549.6 497.7,549.6 498.4,549.5 499.1,549.5 499.8,549.5 500.5,549.5 501.2,549.5 501.9,549.5 502.6,549.5 503.3,549.5 504.0,549.5 504.7,549.4 505.4,549.4 506.1,549.4 506.8,549.4 507.5,549.4 508.2,549.4 508.9,549.4 509.6,549.4 510.3,549.4 511.0,549.3 511.7,549.3 512.4,549.3 513.1,549.3 513.8,549.3 514.5,549.3 515.2,549.3 515.9,549.3 516.6,549.3 517.3,549.2 518.0,549.2 518.7,549.2 519.4,549.2 520.1,549.2 520.8,549.2 521.5,549.2 522.2,549.2 522.9,549.2 523.6,549.2 524.3,549.2 525.0,549.2 525.7,549.1 526.4,549.1 527.1,549.1 527.8,549.1 528.5,549.1 529.2,549.1 529.9,549.1 530.6,549.1 531.3,549.1 532.0,549.1 532.7,549.1 533.4,549.1 534.1,549.1 534.8,549.1 535.5,549.1 536.2,549.1 536.9,549.1 537.6,549.0 538.3,549.0 539.0,549.0 539.7,549.0 540.4,549.0 541.1,549.0 541.8,549.0 542.5,549.0 543.2,549.0 543.9,549.0 544.6,549.0 545.3,549.0 546.0,549.0 546.7,549.0 547.4,549.0 548.1,549.0 548.8,548.9 549.5,548.9 550.2,548.9 550.9,548.9 551.6,548.9 552.3,548.9 553.0,548.9 553.7,548.9 554.4,548.9 555.1,548.9 555.8,548.9 556.5,548.9 557.2,548.9 557.9,548.9 558.6,548.9 559.3,548.9 560.0,548.8 560.7,548.8 561.4,548.8 562.1,548.8 562.8,548.8 563.5,548.8 564.2,548.8 564.9,548.8 565.6,548.8 566.3,548.8 567.0,548.8 567.7,548.8 568.4,548.8 569.1,548.8 569.8,548.8 570.5,548.8 571.2,548.7 571.9,548.7 572.6,548.7 573.3,548.7 574.0,548.7 574.7,548.7 575.4,548.7 576.1,548.7 576.8,548.7 577.5,548.7 578.2,548.7 578.9,548.7 579.6,548.7 580.3,548.7 581.0,548.7 581.7,548.7 582.4,548.6 583.1,548.6 583.8,548.6 584.5,548.6 585.2,548.6 585.9,548.6 586.6,548.6 587.3,548.6 588.0,548.6" fill="none" stroke="#3a3af5" stroke-width="0.65" stroke-opacity="0.9" stroke-linejoin="round" stroke-dasharray="4,0.9"/>
<text x="73.6" y="382" text-anchor="middle" font-family='"Liberation Sans", sans-serif' font-size="3.5" fill="#1a1a1a" stroke="#1a1a1a" stroke-width="0.08">0.647</text>
<text x="66.6" y="420" text-anchor="middle" font-family='"Liberation Sans", sans-serif' font-size="3.5" fill="#1a1a1a" stroke="#1a1a1a" stroke-width="0.08">0.577</text>
<text x="83.2" y="462.4" text-anchor="middle" font-family='"Liberation Sans", sans-serif' font-size="3.5" fill="#1a1a1a" stroke="#1a1a1a" stroke-width="0.08">0.851</text>
<text x="60.7" y="506.2" text-anchor="middle" font-family='"Liberation Sans", sans-serif' font-size="3.5" fill="#1a1a1a" stroke="#1a1a1a" stroke-width="0.08">0.447</text>
<text x="108.6" y="541.5" text-anchor="middle" font-family='"Liberation Sans", sans-serif' font-size="3.5" fill="#1a1a1a" stroke="#1a1a1a" stroke-width="0.08">1.346</text>
<text x="121.2" y="541" text-anchor="middle" font-family='"Liberation Sans", sans-serif' font-size="3.5" fill="#1a1a1a" stroke="#1a1a1a" stroke-width="0.08">1.619</text>
<text x="131.4" y="541.5" text-anchor="middle" font-family='"Liberation Sans", sans-serif' font-size="3.5" fill="#1a1a1a" stroke="#1a1a1a" stroke-width="0.08">1.922</text>
<text x="143.0" y="538.9" text-anchor="middle" font-family='"Liberation Sans", sans-serif' font-size="3.5" fill="#1a1a1a" stroke="#1a1a1a" stroke-width="0.08">2.065</text>
<text x="155.6" y="537.7" text-anchor="middle" font-family='"Liberation Sans", sans-serif' font-size="3.5" fill="#1a1a1a" stroke="#1a1a1a" stroke-width="0.08">2.288</text>
<text x="162.0" y="543" text-anchor="middle" font-family='"Liberation Sans", sans-serif' font-size="3.5" fill="#1a1a1a" stroke="#1a1a1a" stroke-width="0.08">2.572</text>
<text x="177.5" y="543" text-anchor="middle" font-family='"Liberation Sans", sans-serif' font-size="3.5" fill="#1a1a1a" stroke="#1a1a1a" stroke-width="0.08">2.953</text>
<text x="321.8" y="506.8" text-anchor="middle" font-family='"Liberation Sans", sans-serif' font-size="3.5" fill="#1a1a1a" stroke="#1a1a1a" stroke-width="0.08">6.105</text>
<circle cx="21.9" cy="329.6" r="1.5" fill="#1a1aff"/>
<text x="24.599999999999998" y="330.90000000000003" font-family='"Liberation Sans", sans-serif' font-size="3.75" font-weight="bold" fill="#1a1a1a" stroke="#1a1a1a" stroke-width="0.08">TIC from QC-1_NEG.wiff (sample 1) - QC-1</text>
<circle cx="21.9" cy="333.6" r="1.5" fill="#ff00ff"/>
<text x="24.599999999999998" y="334.90000000000003" font-family='"Liberation Sans", sans-serif' font-size="3.5" font-weight="normal" fill="#1a1a1a" stroke="#1a1a1a" stroke-width="0.08">TIC from QC-2_NEG.wiff (sample 1) - QC-2</text>
<circle cx="21.9" cy="337.6" r="1.5" fill="#ff2020"/>
<text x="24.599999999999998" y="338.90000000000003" font-family='"Liberation Sans", sans-serif' font-size="3.5" font-weight="normal" fill="#1a1a1a" stroke="#1a1a1a" stroke-width="0.08">TIC from QC-3_NEG.wiff (sample 1) - QC-3</text>
<text transform="translate(23.2,448.0) rotate(-90)" text-anchor="middle" font-family='"Liberation Sans", sans-serif' font-size="3.3" fill="#333" stroke="#333" stroke-width="0.12">Intensity</text>
<circle cx="315.8" cy="558.4" r="2.0" fill="#8b1a7b"/>
<text x="315.8" y="565.0" text-anchor="middle" font-family='"Liberation Sans", sans-serif' font-size="3.4" fill="#222">Time, min</text>
<polyline points="150,537.5 146,541.5" fill="none" stroke="#555" stroke-width="0.4"/>
<path d="M42.9,547.5 L44.6,549.2 L42.9,550.9 L41.2,549.2 Z" fill="#1a1aaa"/>
<ellipse cx="829.6" cy="108.5" rx="141.3" ry="55.6" transform="rotate(12.2 829.6 108.5)" fill="#a9aec3"/>
<rect x="678.5" y="36.4" width="302.79999999999995" height="229.9" fill="none" stroke="#7a7a7a" stroke-width="0.9"/>
<text x="829.6" y="30.8" text-anchor="middle" font-family='"Liberation Sans", sans-serif' font-weight="bold" font-size="8.3" fill="#111">Score(PCA)</text>
<line x1="682.4" y1="266.3" x2="682.4" y2="267.90000000000003" stroke="#555" stroke-width="0.7"/>
<text x="682.4" y="273.5" text-anchor="middle" font-family='"Liberation Sans", sans-serif' font-size="5.8" fill="#444">-40</text>
<line x1="754.4" y1="266.3" x2="754.4" y2="267.90000000000003" stroke="#555" stroke-width="0.7"/>
<text x="754.4" y="273.5" text-anchor="middle" font-family='"Liberation Sans", sans-serif' font-size="5.8" fill="#444">-20</text>
<line x1="826.5" y1="266.3" x2="826.5" y2="267.90000000000003" stroke="#555" stroke-width="0.7"/>
<text x="826.5" y="273.5" text-anchor="middle" font-family='"Liberation Sans", sans-serif' font-size="5.8" fill="#444">0</text>
<line x1="898.9" y1="266.3" x2="898.9" y2="267.90000000000003" stroke="#555" stroke-width="0.7"/>
<text x="898.9" y="273.5" text-anchor="middle" font-family='"Liberation Sans", sans-serif' font-size="5.8" fill="#444">20</text>
<line x1="971.3" y1="266.3" x2="971.3" y2="267.90000000000003" stroke="#555" stroke-width="0.7"/>
<text x="971.3" y="273.5" text-anchor="middle" font-family='"Liberation Sans", sans-serif' font-size="5.8" fill="#444">40</text>
<line x1="676.9" y1="41.5" x2="678.5" y2="41.5" stroke="#555" stroke-width="0.7"/>
<text x="675.7" y="43.6" text-anchor="end" font-family='"Liberation Sans", sans-serif' font-size="5.8" fill="#444">10</text>
<line x1="676.9" y1="99.1" x2="678.5" y2="99.1" stroke="#555" stroke-width="0.7"/>
<text x="675.7" y="101.19999999999999" text-anchor="end" font-family='"Liberation Sans", sans-serif' font-size="5.8" fill="#444">5</text>
<line x1="676.9" y1="156.7" x2="678.5" y2="156.7" stroke="#555" stroke-width="0.7"/>
<text x="675.7" y="158.79999999999998" text-anchor="end" font-family='"Liberation Sans", sans-serif' font-size="5.8" fill="#444">0</text>
<line x1="676.9" y1="214.4" x2="678.5" y2="214.4" stroke="#555" stroke-width="0.7"/>
<text x="675.7" y="216.5" text-anchor="end" font-family='"Liberation Sans", sans-serif' font-size="5.8" fill="#444">-5</text>
<circle cx="732.3" cy="78.9" r="2.5" fill="#1b2a6b"/>
<rect x="730.4" y="69.6" width="20.6" height="6.6" rx="0.8" fill="#fff" stroke="#c8c8c8" stroke-width="0.4"/>
<text x="740.6999999999999" y="74.3" text-anchor="middle" font-family='"Liberation Sans", sans-serif' font-size="4.8" fill="#2a2a2a">YQHX-3</text>
<circle cx="803.5" cy="110.7" r="2.5" fill="#1b2a6b"/>
<rect x="784.9" y="101.1" width="20.6" height="6.6" rx="0.8" fill="#fff" stroke="#c8c8c8" stroke-width="0.4"/>
<text x="795.1999999999999" y="105.8" text-anchor="middle" font-family='"Liberation Sans", sans-serif' font-size="4.8" fill="#2a2a2a">YQHX-1</text>
<circle cx="894.4" cy="87.9" r="2.5" fill="#1b2a6b"/>
<rect x="892.6" y="78.4" width="20.6" height="6.6" rx="0.8" fill="#fff" stroke="#c8c8c8" stroke-width="0.4"/>
<text x="902.9" y="83.10000000000001" text-anchor="middle" font-family='"Liberation Sans", sans-serif' font-size="4.8" fill="#2a2a2a">YQHX-6</text>
<circle cx="858.0" cy="109.2" r="2.5" fill="#1b2a6b"/>
<rect x="856.3" y="99.8" width="20.6" height="6.6" rx="0.8" fill="#fff" stroke="#c8c8c8" stroke-width="0.4"/>
<text x="866.5999999999999" y="104.5" text-anchor="middle" font-family='"Liberation Sans", sans-serif' font-size="4.8" fill="#2a2a2a">YQHX-5</text>
<circle cx="835.9" cy="112.0" r="2.5" fill="#1b2a6b"/>
<rect x="817.4" y="115.4" width="20.6" height="6.6" rx="0.8" fill="#fff" stroke="#c8c8c8" stroke-width="0.4"/>
<text x="827.6999999999999" y="120.10000000000001" text-anchor="middle" font-family='"Liberation Sans", sans-serif' font-size="4.8" fill="#2a2a2a">YQHX-2</text>
<circle cx="854.4" cy="152.2" r="2.5" fill="#1b2a6b"/>
<rect x="835.9" y="155.5" width="20.6" height="6.6" rx="0.8" fill="#fff" stroke="#c8c8c8" stroke-width="0.4"/>
<text x="846.1999999999999" y="160.2" text-anchor="middle" font-family='"Liberation Sans", sans-serif' font-size="4.8" fill="#2a2a2a">YQHX-4</text>
<circle cx="820.2" cy="253.3" r="2.5" fill="#e8262d" fill-opacity="0.9"/>
<circle cx="821.2" cy="254.3" r="2.5" fill="#e8262d" fill-opacity="0.9"/>
<circle cx="820.6" cy="254.8" r="2.5" fill="#e8262d" fill-opacity="0.9"/>
<rect x="804.3" y="243.4" width="15.2" height="7" rx="0.8" fill="#fff" stroke="#e88" stroke-width="0.5"/>
<text x="811.9" y="248.3" text-anchor="middle" font-family='"Liberation Sans", sans-serif' font-size="4.8" fill="#dd2a2a">QC-1</text>
<rect x="824.3" y="244.9" width="15.2" height="7" rx="0.8" fill="#fff" stroke="#e88" stroke-width="0.5"/>
<text x="831.9" y="249.8" text-anchor="middle" font-family='"Liberation Sans", sans-serif' font-size="4.8" fill="#dd2a2a">QC-2</text>
<rect x="824.0" y="257.2" width="15.2" height="7" rx="0.8" fill="#fff" stroke="#e88" stroke-width="0.5"/>
<text x="831.6" y="262.09999999999997" text-anchor="middle" font-family='"Liberation Sans", sans-serif' font-size="4.8" fill="#dd2a2a">QC-3</text>
<text x="829.6" y="281.6" text-anchor="middle" font-family='"Liberation Sans", sans-serif' font-size="7.2" fill="#222">PC[1](51.7%)</text>
<text transform="translate(664.3,150.9) rotate(-90)" text-anchor="middle" font-family='"Liberation Sans", sans-serif' font-size="6.8" fill="#222">PC[2](14.4%)</text>
<text x="987.6" y="145.8" font-family='"Liberation Sans", sans-serif' font-size="6.5" fill="#222">Group</text>
<circle cx="990.1" cy="153.0" r="2.3" fill="#e8262d"/>
<text x="995.8000000000001" y="155.10000000000002" font-family='"Liberation Sans", sans-serif' font-size="6" fill="#222">QC</text>
<circle cx="990.1" cy="158.9" r="2.3" fill="#1b2a6b"/>
<text x="995.8000000000001" y="161.0" font-family='"Liberation Sans", sans-serif' font-size="6" fill="#222">YQHX</text>
<ellipse cx="833.6" cy="447.5" rx="136.1" ry="103.0" transform="rotate(7.8 833.6 447.5)" fill="#a9aec3"/>
<rect x="684.5" y="333.8" width="298.0" height="227.90000000000003" fill="none" stroke="#7a7a7a" stroke-width="0.9"/>
<text x="833.5" y="328.9" text-anchor="middle" font-family='"Liberation Sans", sans-serif' font-weight="bold" font-size="8.3" fill="#111">Score(PCA)</text>
<line x1="710.1" y1="561.7" x2="710.1" y2="563.3000000000001" stroke="#555" stroke-width="0.7"/>
<text x="710.1" y="568.9000000000001" text-anchor="middle" font-family='"Liberation Sans", sans-serif' font-size="5.8" fill="#444">-20</text>
<line x1="769.2" y1="561.7" x2="769.2" y2="563.3000000000001" stroke="#555" stroke-width="0.7"/>
<text x="769.2" y="568.9000000000001" text-anchor="middle" font-family='"Liberation Sans", sans-serif' font-size="5.8" fill="#444">-10</text>
<line x1="828.3" y1="561.7" x2="828.3" y2="563.3000000000001" stroke="#555" stroke-width="0.7"/>
<text x="828.3" y="568.9000000000001" text-anchor="middle" font-family='"Liberation Sans", sans-serif' font-size="5.8" fill="#444">0</text>
<line x1="886.7" y1="561.7" x2="886.7" y2="563.3000000000001" stroke="#555" stroke-width="0.7"/>
<text x="886.7" y="568.9000000000001" text-anchor="middle" font-family='"Liberation Sans", sans-serif' font-size="5.8" fill="#444">10</text>
<line x1="945.8" y1="561.7" x2="945.8" y2="563.3000000000001" stroke="#555" stroke-width="0.7"/>
<text x="945.8" y="568.9000000000001" text-anchor="middle" font-family='"Liberation Sans", sans-serif' font-size="5.8" fill="#444">20</text>
<line x1="682.9" y1="346.6" x2="684.5" y2="346.6" stroke="#555" stroke-width="0.7"/>
<text x="681.7" y="348.70000000000005" text-anchor="end" font-family='"Liberation Sans", sans-serif' font-size="5.8" fill="#444">20</text>
<line x1="682.9" y1="401.5" x2="684.5" y2="401.5" stroke="#555" stroke-width="0.7"/>
<text x="681.7" y="403.6" text-anchor="end" font-family='"Liberation Sans", sans-serif' font-size="5.8" fill="#444">10</text>
<line x1="682.9" y1="456.4" x2="684.5" y2="456.4" stroke="#555" stroke-width="0.7"/>
<text x="681.7" y="458.5" text-anchor="end" font-family='"Liberation Sans", sans-serif' font-size="5.8" fill="#444">0</text>
<line x1="682.9" y1="511.3" x2="684.5" y2="511.3" stroke="#555" stroke-width="0.7"/>
<text x="681.7" y="513.4" text-anchor="end" font-family='"Liberation Sans", sans-serif' font-size="5.8" fill="#444">-10</text>
<circle cx="830.2" cy="387.8" r="2.5" fill="#1b2a6b"/>
<rect x="828.0" y="378.8" width="20.6" height="6.6" rx="0.8" fill="#fff" stroke="#c8c8c8" stroke-width="0.4"/>
<text x="838.3" y="383.5" text-anchor="middle" font-family='"Liberation Sans", sans-serif' font-size="4.8" fill="#2a2a2a">YQHX-4</text>
<circle cx="751.2" cy="428.1" r="2.5" fill="#1b2a6b"/>
<rect x="732.8" y="431.1" width="20.6" height="6.6" rx="0.8" fill="#fff" stroke="#c8c8c8" stroke-width="0.4"/>
<text x="743.0999999999999" y="435.8" text-anchor="middle" font-family='"Liberation Sans", sans-serif' font-size="4.8" fill="#2a2a2a">YQHX-3</text>
<circle cx="821.7" cy="449.6" r="2.5" fill="#1b2a6b"/>
<rect x="819.4" y="440.0" width="20.6" height="6.6" rx="0.8" fill="#fff" stroke="#c8c8c8" stroke-width="0.4"/>
<text x="829.6999999999999" y="444.7" text-anchor="middle" font-family='"Liberation Sans", sans-serif' font-size="4.8" fill="#2a2a2a">YQHX-1</text>
<circle cx="871.9" cy="451.0" r="2.5" fill="#1b2a6b"/>
<rect x="853.7" y="454.2" width="20.6" height="6.6" rx="0.8" fill="#fff" stroke="#c8c8c8" stroke-width="0.4"/>
<text x="864.0" y="458.9" text-anchor="middle" font-family='"Liberation Sans", sans-serif' font-size="4.8" fill="#2a2a2a">YQHX-2</text>
<circle cx="914.1" cy="452.9" r="2.5" fill="#1b2a6b"/>
<rect x="895.8" y="456.2" width="20.6" height="6.6" rx="0.8" fill="#fff" stroke="#c8c8c8" stroke-width="0.4"/>
<text x="906.0999999999999" y="460.9" text-anchor="middle" font-family='"Liberation Sans", sans-serif' font-size="4.8" fill="#2a2a2a">YQHX-6</text>
<circle cx="811.7" cy="518.2" r="2.5" fill="#1b2a6b"/>
<rect x="809.6" y="509.4" width="20.6" height="6.6" rx="0.8" fill="#fff" stroke="#c8c8c8" stroke-width="0.4"/>
<text x="819.9" y="514.1" text-anchor="middle" font-family='"Liberation Sans", sans-serif' font-size="4.8" fill="#2a2a2a">YQHX-5</text>
<circle cx="819.6" cy="468.9" r="2.5" fill="#e8262d" fill-opacity="0.9"/>
<circle cx="814.8" cy="472.3" r="2.5" fill="#e8262d" fill-opacity="0.9"/>
<circle cx="817.9" cy="474.5" r="2.5" fill="#e8262d" fill-opacity="0.9"/>
<rect x="799.0" y="462.8" width="15.2" height="7" rx="0.8" fill="#fff" stroke="#e88" stroke-width="0.5"/>
<text x="806.6" y="467.7" text-anchor="middle" font-family='"Liberation Sans", sans-serif' font-size="4.8" fill="#dd2a2a">QC-1</text>
<rect x="819.8" y="459.6" width="15.2" height="7" rx="0.8" fill="#fff" stroke="#e88" stroke-width="0.5"/>
<text x="827.4" y="464.5" text-anchor="middle" font-family='"Liberation Sans", sans-serif' font-size="4.8" fill="#dd2a2a">QC-2</text>
<rect x="819.0" y="477.2" width="15.2" height="7" rx="0.8" fill="#fff" stroke="#e88" stroke-width="0.5"/>
<text x="826.6" y="482.09999999999997" text-anchor="middle" font-family='"Liberation Sans", sans-serif' font-size="4.8" fill="#dd2a2a">QC-3</text>
<text x="833.3" y="577.8" text-anchor="middle" font-family='"Liberation Sans", sans-serif' font-size="7.2" fill="#222">PC[1](29.1%)</text>
<text transform="translate(668.7,448.0) rotate(-90)" text-anchor="middle" font-family='"Liberation Sans", sans-serif' font-size="6.8" fill="#222">PC[2](21.5%)</text>
<text x="989.0" y="442.6" font-family='"Liberation Sans", sans-serif' font-size="6.5" fill="#222">Group</text>
<circle cx="991.5" cy="449.8" r="2.3" fill="#e8262d"/>
<text x="997.2" y="451.90000000000003" font-family='"Liberation Sans", sans-serif' font-size="6" fill="#222">QC</text>
<circle cx="991.5" cy="455.70000000000005" r="2.3" fill="#1b2a6b"/>
<text x="997.2" y="457.8" font-family='"Liberation Sans", sans-serif' font-size="6" fill="#222">YQHX</text>
<path d="M159.8,734.8 L159.80,618.70 A125.2,116.1 0 0 1 261.17,802.94 Z" fill="#f41b24" stroke="#f41b24" stroke-width="0.3"/>
<path d="M159.8,734.8 L261.17,802.94 A125.2,116.1 0 0 1 162.59,850.87 Z" fill="#222a6c" stroke="#222a6c" stroke-width="0.3"/>
<path d="M159.8,734.8 L162.59,850.87 A125.2,116.1 0 0 1 86.87,829.17 Z" fill="#008a3c" stroke="#008a3c" stroke-width="0.3"/>
<path d="M159.8,734.8 L86.87,829.17 A125.2,116.1 0 0 1 43.66,778.17 Z" fill="#9c2392" stroke="#9c2392" stroke-width="0.3"/>
<path d="M159.8,734.8 L43.66,778.17 A125.2,116.1 0 0 1 35.62,719.98 Z" fill="#fd7f1a" stroke="#fd7f1a" stroke-width="0.3"/>
<path d="M159.8,734.8 L35.62,719.98 A125.2,116.1 0 0 1 55.28,670.89 Z" fill="#ffe100" stroke="#ffe100" stroke-width="0.3"/>
<path d="M159.8,734.8 L55.28,670.89 A125.2,116.1 0 0 1 69.12,654.75 Z" fill="#7f9fd3" stroke="#7f9fd3" stroke-width="0.3"/>
<path d="M159.8,734.8 L69.12,654.75 A125.2,116.1 0 0 1 78.18,646.76 Z" fill="#d46aab" stroke="#d46aab" stroke-width="0.3"/>
<path d="M159.8,734.8 L78.18,646.76 A125.2,116.1 0 0 1 81.39,644.29 Z" fill="#f3c1dd" stroke="#f3c1dd" stroke-width="0.3"/>
<path d="M159.8,734.8 L81.39,644.29 A125.2,116.1 0 0 1 83.56,642.71 Z" fill="#52cfe2" stroke="#52cfe2" stroke-width="0.3"/>
<path d="M159.8,734.8 L83.56,642.71 A125.2,116.1 0 0 1 86.90,640.41 Z" fill="#62c553" stroke="#62c553" stroke-width="0.3"/>
<path d="M159.8,734.8 L86.90,640.41 A125.2,116.1 0 0 1 159.80,618.70 Z" fill="#ff7a7a" stroke="#ff7a7a" stroke-width="0.3"/>
<text x="323.0" y="643.1" font-family='"Liberation Serif", serif' font-size="11.4" text-rendering="geometricPrecision" fill="#222">SuperClass</text>
<rect x="324.0" y="650.90" width="14.5" height="13.4" fill="#f41b24"/>
<text x="346.3" y="661.00" font-family='"Liberation Serif", serif' font-size="8.8" letter-spacing="0.22" text-rendering="geometricPrecision" fill="#262626">Lipids and lipid-like molecules : 34.98 %</text>
<rect x="324.0" y="666.40" width="14.5" height="13.4" fill="#222a6c"/>
<text x="346.3" y="676.50" font-family='"Liberation Serif", serif' font-size="8.8" letter-spacing="0.22" text-rendering="geometricPrecision" fill="#262626">Organic acids and derivatives : 14.66 %</text>
<rect x="324.0" y="681.90" width="14.5" height="13.4" fill="#008a3c"/>
<text x="346.3" y="692.00" font-family='"Liberation Serif", serif' font-size="8.8" letter-spacing="0.22" text-rendering="geometricPrecision" fill="#262626">Phenylpropanoids and polyketides : 10.25 %</text>
<rect x="324.0" y="697.40" width="14.5" height="13.4" fill="#9c2392"/>
<text x="346.3" y="707.50" font-family='"Liberation Serif", serif' font-size="8.8" letter-spacing="0.22" text-rendering="geometricPrecision" fill="#262626">Organoheterocyclic compounds : 9.01 %</text>
<rect x="324.0" y="712.90" width="14.5" height="13.4" fill="#fd7f1a"/>
<text x="346.3" y="723.00" font-family='"Liberation Serif", serif' font-size="8.8" letter-spacing="0.22" text-rendering="geometricPrecision" fill="#262626">Organic oxygen compounds : 8.13 %</text>
<rect x="324.0" y="728.40" width="14.5" height="13.4" fill="#ffe100"/>
<text x="346.3" y="738.50" font-family='"Liberation Serif", serif' font-size="8.8" letter-spacing="0.22" text-rendering="geometricPrecision" fill="#262626">Benzenoids : 7.24 %</text>
<rect x="324.0" y="743.90" width="14.5" height="13.4" fill="#7f9fd3"/>
<text x="346.3" y="754.00" font-family='"Liberation Serif", serif' font-size="8.8" letter-spacing="0.22" text-rendering="geometricPrecision" fill="#262626">Organic nitrogen compounds : 2.83 %</text>
<rect x="324.0" y="759.40" width="14.5" height="13.4" fill="#d46aab"/>
<text x="346.3" y="769.50" font-family='"Liberation Serif", serif' font-size="8.8" letter-spacing="0.22" text-rendering="geometricPrecision" fill="#262626">Nucleosides, nucleotides, and analogues : 1.59 %</text>
<rect x="324.0" y="774.90" width="14.5" height="13.4" fill="#f3c1dd"/>
<text x="346.3" y="785.00" font-family='"Liberation Serif", serif' font-size="8.8" letter-spacing="0.22" text-rendering="geometricPrecision" fill="#262626">Organometallic compounds : 0.53 %</text>
<rect x="324.0" y="790.40" width="14.5" height="13.4" fill="#52cfe2"/>
<text x="346.3" y="800.50" font-family='"Liberation Serif", serif' font-size="8.8" letter-spacing="0.22" text-rendering="geometricPrecision" fill="#262626">Alkaloids and derivatives : 0.35 %</text>
<rect x="324.0" y="805.90" width="14.5" height="13.4" fill="#62c553"/>
<text x="346.3" y="816.00" font-family='"Liberation Serif", serif' font-size="8.8" letter-spacing="0.22" text-rendering="geometricPrecision" fill="#262626">Others : 0.53 %</text>
<rect x="324.0" y="821.40" width="14.5" height="13.4" fill="#ff7a7a"/>
<text x="346.3" y="831.50" font-family='"Liberation Serif", serif' font-size="8.8" letter-spacing="0.22" text-rendering="geometricPrecision" fill="#262626">Undefined : 9.89 %</text>
<path d="M708.3,729.7 L708.30,612.60 A125.6,117.1 0 0 1 792.31,642.65 Z" fill="#f41b24" stroke="#f41b24" stroke-width="0.3"/>
<path d="M708.3,729.7 L792.31,642.65 A125.6,117.1 0 0 1 833.20,717.38 Z" fill="#222a6c" stroke="#222a6c" stroke-width="0.3"/>
<path d="M708.3,729.7 L833.20,717.38 A125.6,117.1 0 0 1 824.27,774.67 Z" fill="#008a3c" stroke="#008a3c" stroke-width="0.3"/>
<path d="M708.3,729.7 L824.27,774.67 A125.6,117.1 0 0 1 788.09,820.13 Z" fill="#9c2392" stroke="#9c2392" stroke-width="0.3"/>
<path d="M708.3,729.7 L788.09,820.13 A125.6,117.1 0 0 1 733.27,844.46 Z" fill="#fd7f1a" stroke="#fd7f1a" stroke-width="0.3"/>
<path d="M708.3,729.7 L733.27,844.46 A125.6,117.1 0 0 1 684.80,844.73 Z" fill="#ffe100" stroke="#ffe100" stroke-width="0.3"/>
<path d="M708.3,729.7 L684.80,844.73 A125.6,117.1 0 0 1 646.99,831.90 Z" fill="#7f9fd3" stroke="#7f9fd3" stroke-width="0.3"/>
<path d="M708.3,729.7 L646.99,831.90 A125.6,117.1 0 0 1 616.38,809.50 Z" fill="#d46aab" stroke="#d46aab" stroke-width="0.3"/>
<path d="M708.3,729.7 L616.38,809.50 A125.6,117.1 0 0 1 602.69,793.09 Z" fill="#f3c1dd" stroke="#f3c1dd" stroke-width="0.3"/>
<path d="M708.3,729.7 L602.69,793.09 A125.6,117.1 0 0 1 594.00,778.24 Z" fill="#52cfe2" stroke="#52cfe2" stroke-width="0.3"/>
<path d="M708.3,729.7 L594.00,778.24 A125.6,117.1 0 0 1 634.02,635.27 Z" fill="#62c553" stroke="#62c553" stroke-width="0.3"/>
<path d="M708.3,729.7 L634.02,635.27 A125.6,117.1 0 0 1 708.30,612.60 Z" fill="#ff7a7a" stroke="#ff7a7a" stroke-width="0.3"/>
<text x="871.9" y="636.8" font-family='"Liberation Serif", serif' font-size="11.4" text-rendering="geometricPrecision" fill="#222">Class</text>
<rect x="873.1" y="644.80" width="14.8" height="13.5" fill="#f41b24"/>
<text x="895.2" y="654.85" font-family='"Liberation Serif", serif' font-size="8.8" letter-spacing="0.22" text-rendering="geometricPrecision" fill="#262626">Carboxylic acids and derivatives : 11.66 %</text>
<rect x="873.1" y="660.44" width="14.8" height="13.5" fill="#222a6c"/>
<text x="895.2" y="670.49" font-family='"Liberation Serif", serif' font-size="8.8" letter-spacing="0.22" text-rendering="geometricPrecision" fill="#262626">Fatty Acyls : 11.66 %</text>
<rect x="873.1" y="676.08" width="14.8" height="13.5" fill="#008a3c"/>
<text x="895.2" y="686.13" font-family='"Liberation Serif", serif' font-size="8.8" letter-spacing="0.22" text-rendering="geometricPrecision" fill="#262626">Organooxygen compounds : 7.95 %</text>
<rect x="873.1" y="691.72" width="14.8" height="13.5" fill="#9c2392"/>
<text x="895.2" y="701.77" font-family='"Liberation Serif", serif' font-size="8.8" letter-spacing="0.22" text-rendering="geometricPrecision" fill="#262626">Glycerophospholipids : 7.77 %</text>
<rect x="873.1" y="707.36" width="14.8" height="13.5" fill="#fd7f1a"/>
<text x="895.2" y="717.41" font-family='"Liberation Serif", serif' font-size="8.8" letter-spacing="0.22" text-rendering="geometricPrecision" fill="#262626">Prenol lipids : 7.77 %</text>
<rect x="873.1" y="723.00" width="14.8" height="13.5" fill="#ffe100"/>
<text x="895.2" y="733.05" font-family='"Liberation Serif", serif' font-size="8.8" letter-spacing="0.22" text-rendering="geometricPrecision" fill="#262626">Steroids and steroid derivatives : 6.18 %</text>
<rect x="873.1" y="738.64" width="14.8" height="13.5" fill="#7f9fd3"/>
<text x="895.2" y="748.69" font-family='"Liberation Serif", serif' font-size="8.8" letter-spacing="0.22" text-rendering="geometricPrecision" fill="#262626">Flavonoids : 5.12 %</text>
<rect x="873.1" y="754.28" width="14.8" height="13.5" fill="#d46aab"/>
<text x="895.2" y="764.33" font-family='"Liberation Serif", serif' font-size="8.8" letter-spacing="0.22" text-rendering="geometricPrecision" fill="#262626">Benzene and substituted derivatives : 4.95 %</text>
<rect x="873.1" y="769.92" width="14.8" height="13.5" fill="#f3c1dd"/>
<text x="895.2" y="779.97" font-family='"Liberation Serif", serif' font-size="8.8" letter-spacing="0.22" text-rendering="geometricPrecision" fill="#262626">Organonitrogen compounds : 2.83 %</text>
<rect x="873.1" y="785.56" width="14.8" height="13.5" fill="#52cfe2"/>
<text x="895.2" y="795.61" font-family='"Liberation Serif", serif' font-size="8.8" letter-spacing="0.22" text-rendering="geometricPrecision" fill="#262626">Isoflavonoids : 2.3 %</text>
<rect x="873.1" y="801.20" width="14.8" height="13.5" fill="#62c553"/>
<text x="895.2" y="811.25" font-family='"Liberation Serif", serif' font-size="8.8" letter-spacing="0.22" text-rendering="geometricPrecision" fill="#262626">Others : 21.73 %</text>
<rect x="873.1" y="816.84" width="14.8" height="13.5" fill="#ff7a7a"/>
<text x="895.2" y="826.89" font-family='"Liberation Serif", serif' font-size="8.8" letter-spacing="0.22" text-rendering="geometricPrecision" fill="#262626">Undefined : 10.07 %</text>
</svg>
</body></html>
